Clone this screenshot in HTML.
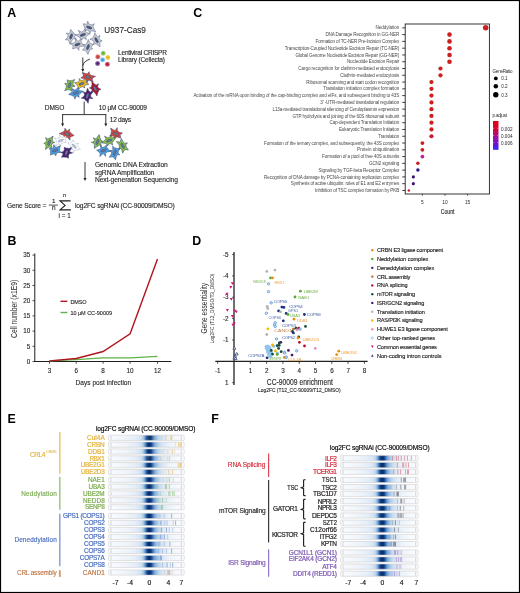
<!DOCTYPE html>
<html><head><meta charset="utf-8"><style>
html,body{margin:0;padding:0;background:#fff;}
body{width:520px;height:593px;overflow:hidden;}
svg{display:block;font-family:"Liberation Sans", sans-serif;will-change:transform;}
</style></head><body>
<svg width="520" height="593" viewBox="0 0 520 593">
<rect x="0" y="0" width="520" height="593" fill="#fff"/>
<text x="7.30" y="17.40" font-size="12.4" fill="#000" font-weight="bold">A</text>
<path d="M93.91,28.98 L95.65,31.78 L91.95,30.80 L90.78,30.83 L90.71,31.00 L90.00,33.40 L88.68,30.76 L87.98,30.38 L86.99,30.10 L83.93,31.09 L85.28,28.80 L84.81,27.86 L84.27,26.12 L83.12,23.76 L86.16,24.23 L87.33,24.17 L87.15,24.03 L87.62,21.20 L89.26,24.18 L89.99,24.53 L91.20,24.90 L94.35,23.81 L92.91,26.18 L93.38,27.12Z" fill="#c9c9cf" stroke="#5a6a90" stroke-width="0.55" stroke-linejoin="miter"/>
<ellipse cx="89.10" cy="27.50" rx="2.9" ry="1.2" fill="#4a5a80" stroke="#2c3a62" stroke-width="0.35" transform="rotate(20.1 89.10 27.50)"/>
<path d="M74.54,34.26 L76.48,34.84 L74.47,36.44 L74.13,37.19 L74.33,37.04 L76.61,39.14 L73.62,38.74 L73.05,39.35 L71.67,40.88 L69.93,44.17 L69.00,41.06 L68.29,40.02 L67.95,39.76 L65.32,39.83 L67.62,37.36 L67.89,36.50 L68.06,35.39 L66.35,33.04 L68.92,33.70 L69.60,33.11 L69.79,32.69 L70.74,29.42 L72.23,31.64 L73.27,32.26Z" fill="#c9c9cf" stroke="#5a6a90" stroke-width="0.55" stroke-linejoin="miter"/>
<ellipse cx="71.10" cy="36.50" rx="2.9" ry="1.2" fill="#4a5a80" stroke="#2c3a62" stroke-width="0.35" transform="rotate(-69.9 71.10 36.50)"/>
<path d="M87.38,32.83 L90.11,33.84 L87.16,35.50 L86.30,36.30 L85.65,37.04 L86.38,39.64 L83.96,37.92 L83.19,38.02 L83.03,38.21 L81.65,40.24 L80.94,38.38 L79.98,38.02 L78.02,36.49 L75.73,35.19 L78.72,33.91 L79.60,33.22 L79.55,33.06 L78.25,30.27 L81.25,32.03 L82.02,31.89 L83.05,31.50 L85.10,28.66 L85.29,31.51 L86.24,32.04Z" fill="#c9c9cf" stroke="#5a6a90" stroke-width="0.55" stroke-linejoin="miter"/>
<ellipse cx="82.80" cy="34.90" rx="2.9" ry="1.2" fill="#4a5a80" stroke="#2c3a62" stroke-width="0.35" transform="rotate(-20.1 82.80 34.90)"/>
<path d="M99.82,43.76 L99.93,46.94 L97.39,44.82 L96.29,44.24 L95.33,43.79 L93.47,44.68 L93.99,42.30 L93.71,41.56 L93.13,40.62 L89.88,39.15 L92.73,38.44 L93.06,37.42 L94.05,35.79 L94.77,32.69 L96.73,35.97 L97.56,36.72 L97.74,36.67 L99.94,35.35 L99.05,38.17 L99.32,38.91 L99.81,39.64 L102.21,40.85 L100.26,41.76 L99.99,42.78Z" fill="#c9c9cf" stroke="#5a6a90" stroke-width="0.55" stroke-linejoin="miter"/>
<ellipse cx="96.50" cy="40.20" rx="2.9" ry="1.2" fill="#4a5a80" stroke="#2c3a62" stroke-width="0.35" transform="rotate(60.2 96.50 40.20)"/>
<path d="M82.24,44.28 L84.44,46.15 L80.76,46.33 L79.90,46.76 L79.06,47.36 L78.81,50.36 L77.30,47.90 L76.46,47.84 L75.43,47.96 L72.67,49.01 L73.05,46.76 L72.86,45.57 L72.65,45.20 L70.05,43.48 L73.95,42.93 L74.82,42.42 L75.63,41.78 L75.54,38.64 L77.36,41.17 L78.17,41.19 L78.41,41.02 L80.84,38.88 L80.83,41.38 L81.63,42.19Z" fill="#c9c9cf" stroke="#5a6a90" stroke-width="0.55" stroke-linejoin="miter"/>
<ellipse cx="77.50" cy="44.50" rx="2.9" ry="1.2" fill="#4a5a80" stroke="#2c3a62" stroke-width="0.35" transform="rotate(-20.1 77.50 44.50)"/>
<path d="M91.24,44.06 L93.73,44.17 L91.46,46.42 L91.17,47.26 L91.28,47.42 L92.74,48.98 L90.63,49.14 L90.10,49.75 L89.16,51.05 L88.03,54.34 L86.64,51.93 L85.66,51.20 L84.80,50.24 L82.42,50.11 L84.53,47.86 L84.81,47.01 L84.88,46.21 L83.35,44.21 L85.68,44.52 L86.30,43.92 L87.02,43.01 L88.34,39.46 L89.60,42.32 L90.51,43.17Z" fill="#c9c9cf" stroke="#5a6a90" stroke-width="0.55" stroke-linejoin="miter"/>
<ellipse cx="88.00" cy="47.10" rx="2.9" ry="1.2" fill="#4a5a80" stroke="#2c3a62" stroke-width="0.35" transform="rotate(-69.9 88.00 47.10)"/>
<text x="104.30" y="32.60" font-size="9.4" fill="#231f20" textLength="41.60" lengthAdjust="spacingAndGlyphs" stroke="#231f20" stroke-width="0.12">U937-Cas9</text>
<defs><radialGradient id="ld0"><stop offset="0.25" stop-color="#c83a3a"/><stop offset="1" stop-color="#e89090"/></radialGradient></defs>
<circle cx="97.80" cy="56.80" r="2.50" fill="url(#ld0)"/>
<defs><radialGradient id="ld1"><stop offset="0.25" stop-color="#6aae3a"/><stop offset="1" stop-color="#b0dc90"/></radialGradient></defs>
<circle cx="103.20" cy="53.30" r="2.50" fill="url(#ld1)"/>
<defs><radialGradient id="ld2"><stop offset="0.25" stop-color="#eeb000"/><stop offset="1" stop-color="#f8dc80"/></radialGradient></defs>
<circle cx="107.80" cy="57.40" r="2.50" fill="url(#ld2)"/>
<defs><radialGradient id="ld3"><stop offset="0.25" stop-color="#3a96e0"/><stop offset="1" stop-color="#a8d4f6"/></radialGradient></defs>
<circle cx="102.60" cy="59.80" r="2.50" fill="url(#ld3)"/>
<defs><radialGradient id="ld4"><stop offset="0.25" stop-color="#4a1a6a"/><stop offset="1" stop-color="#a888c0"/></radialGradient></defs>
<circle cx="97.60" cy="63.50" r="2.50" fill="url(#ld4)"/>
<defs><radialGradient id="ld5"><stop offset="0.25" stop-color="#b8102e"/><stop offset="1" stop-color="#e08098"/></radialGradient></defs>
<circle cx="107.40" cy="64.30" r="2.50" fill="url(#ld5)"/>
<text x="118.10" y="54.75" font-size="6.5" fill="#231f20" textLength="48.80" lengthAdjust="spacing" stroke="#231f20" stroke-width="0.12">Lentiviral CRISPR</text>
<text x="118.10" y="61.90" font-size="6.5" fill="#231f20" textLength="46.90" lengthAdjust="spacing" stroke="#231f20" stroke-width="0.12">Library (Cellecta)</text>
<path d="M89.9,59.1 C86,60.5 83.5,62.5 82.9,65.5" fill="none" stroke="#231f20" stroke-width="0.9"/>
<line x1="82.80" y1="57.50" x2="82.80" y2="69.80" stroke="#231f20" stroke-width="0.9"/>
<path d="M81.30,69.00 L84.30,69.00 L82.80,72.00Z" fill="#231f20"/>
<path d="M92.25,79.39 L93.01,82.08 L89.84,80.47 L88.80,80.33 L88.24,80.42 L86.80,83.01 L86.45,79.91 L85.82,79.45 L84.32,78.54 L80.76,77.91 L83.05,76.25 L83.47,75.14 L83.29,75.00 L82.24,72.34 L85.55,73.58 L86.65,73.66 L87.71,73.61 L89.10,71.72 L89.47,74.14 L90.10,74.62 L91.62,75.59 L95.58,76.37 L92.76,77.98 L92.23,79.05Z" fill="#d8463a" stroke="#3a4a70" stroke-width="0.55" stroke-linejoin="miter"/>
<ellipse cx="87.90" cy="77.00" rx="2.9" ry="1.2" fill="#6a7a98" stroke="#2c3a62" stroke-width="0.35" transform="rotate(20.1 87.90 77.00)"/>
<path d="M71.79,80.70 L74.77,79.46 L73.05,83.05 L72.94,84.12 L73.02,84.85 L75.25,86.21 L72.52,86.63 L72.05,87.27 L71.61,88.24 L71.47,91.17 L69.71,89.82 L68.56,89.84 L67.48,89.74 L64.73,90.78 L66.16,87.42 L66.26,86.35 L66.25,85.16 L64.60,83.70 L66.84,83.42 L67.34,82.80 L67.38,82.47 L67.27,79.73 L69.06,80.81 L70.16,80.59Z" fill="#86bf4e" stroke="#3a4a70" stroke-width="0.55" stroke-linejoin="miter"/>
<ellipse cx="69.60" cy="85.20" rx="2.9" ry="1.2" fill="#6a7a98" stroke="#2c3a62" stroke-width="0.35" transform="rotate(-69.9 69.60 85.20)"/>
<path d="M86.46,82.79 L88.88,84.37 L85.31,85.17 L84.43,85.72 L84.37,85.95 L84.61,87.98 L82.68,86.81 L81.90,86.89 L80.79,87.23 L78.55,89.21 L78.40,86.93 L77.56,86.16 L76.76,84.44 L74.45,82.76 L78.05,82.17 L78.93,81.67 L79.32,81.25 L79.04,78.56 L81.02,80.53 L81.81,80.50 L82.80,80.25 L85.21,78.59 L85.25,80.79 L85.94,81.72Z" fill="#f3c21c" stroke="#3a4a70" stroke-width="0.55" stroke-linejoin="miter"/>
<ellipse cx="81.60" cy="83.75" rx="2.9" ry="1.2" fill="#6a7a98" stroke="#2c3a62" stroke-width="0.35" transform="rotate(-20.1 81.60 83.75)"/>
<path d="M97.64,92.95 L96.98,96.02 L94.97,92.87 L94.10,92.13 L93.22,91.50 L91.05,92.12 L92.16,89.97 L91.96,89.21 L91.78,89.15 L89.42,87.94 L91.34,87.03 L91.61,86.01 L91.96,84.79 L91.94,81.32 L94.51,84.05 L95.55,84.69 L96.30,85.03 L98.48,83.70 L97.63,86.53 L97.90,87.27 L98.41,88.03 L100.95,89.25 L98.86,90.15 L98.60,91.17Z" fill="#b3142c" stroke="#3a4a70" stroke-width="0.55" stroke-linejoin="miter"/>
<ellipse cx="95.10" cy="88.60" rx="2.9" ry="1.2" fill="#6a7a98" stroke="#2c3a62" stroke-width="0.35" transform="rotate(60.2 95.10 88.60)"/>
<path d="M80.34,90.63 L83.54,91.40 L80.38,93.29 L79.55,94.15 L78.71,95.07 L79.16,97.34 L77.02,95.94 L76.25,96.03 L76.25,96.18 L74.82,99.08 L74.20,96.39 L73.24,96.07 L71.51,95.24 L68.67,94.43 L71.38,92.58 L72.21,91.70 L72.81,90.93 L72.11,88.61 L74.51,89.97 L75.28,89.85 L76.16,89.49 L77.92,87.47 L78.40,89.51 L79.35,90.05Z" fill="#4d9fe2" stroke="#3a4a70" stroke-width="0.55" stroke-linejoin="miter"/>
<ellipse cx="75.90" cy="92.90" rx="2.9" ry="1.2" fill="#6a7a98" stroke="#2c3a62" stroke-width="0.35" transform="rotate(-20.1 75.90 92.90)"/>
<path d="M90.34,92.11 L93.12,91.72 L90.90,94.57 L90.67,95.49 L90.60,96.45 L92.99,98.71 L89.87,98.14 L89.28,98.75 L88.84,99.48 L88.10,103.31 L86.48,100.66 L85.40,100.16 L84.04,98.43 L81.17,98.32 L83.98,96.16 L84.29,95.36 L84.53,94.25 L83.41,91.90 L85.56,92.56 L86.33,91.99 L86.33,91.78 L87.54,88.23 L88.88,90.99 L89.83,91.78Z" fill="#4e1d70" stroke="#3a4a70" stroke-width="0.55" stroke-linejoin="miter"/>
<ellipse cx="87.40" cy="95.80" rx="2.9" ry="1.2" fill="#6a7a98" stroke="#2c3a62" stroke-width="0.35" transform="rotate(-69.9 87.40 95.80)"/>
<text x="44.70" y="109.60" font-size="6.6" fill="#231f20" textLength="19.60" lengthAdjust="spacing" stroke="#231f20" stroke-width="0.12">DMSO</text>
<text x="98.80" y="109.60" font-size="6.6" fill="#231f20" textLength="48.00" lengthAdjust="spacing" stroke="#231f20" stroke-width="0.12">10 µM CC-90009</text>
<line x1="84.20" y1="101.50" x2="84.20" y2="114.60" stroke="#231f20" stroke-width="0.9"/>
<line x1="62.20" y1="114.60" x2="106.20" y2="114.60" stroke="#231f20" stroke-width="0.9"/>
<line x1="62.60" y1="114.20" x2="62.60" y2="124.40" stroke="#231f20" stroke-width="0.9"/>
<path d="M61.10,123.60 L64.10,123.60 L62.60,126.60Z" fill="#231f20"/>
<line x1="105.80" y1="114.20" x2="105.80" y2="124.40" stroke="#231f20" stroke-width="0.9"/>
<path d="M104.30,123.60 L107.30,123.60 L105.80,126.60Z" fill="#231f20"/>
<text x="109.80" y="122.20" font-size="6.6" fill="#231f20" textLength="21.20" lengthAdjust="spacing" stroke="#231f20" stroke-width="0.12">12 days</text>
<path d="M70.04,137.40 L70.00,140.18 L67.72,137.54 L66.91,137.24 L65.90,137.07 L63.66,138.36 L64.21,136.14 L63.62,135.42 L63.02,134.97 L59.31,133.51 L62.47,132.35 L63.38,131.50 L64.65,130.72 L64.93,128.17 L66.91,130.69 L67.69,131.01 L67.71,130.86 L69.56,129.02 L69.41,131.56 L70.02,132.12 L71.70,133.74 L74.19,135.52 L71.62,136.40 L70.51,137.02Z" fill="#d8463a" stroke="#3a4a70" stroke-width="0.55" stroke-linejoin="miter"/>
<ellipse cx="67.20" cy="134.10" rx="2.9" ry="1.2" fill="#6a7a98" stroke="#2c3a62" stroke-width="0.35" transform="rotate(20.1 67.20 134.10)"/>
<path d="M50.43,137.86 L53.13,136.12 L52.36,139.72 L52.42,140.89 L52.60,141.51 L54.62,142.43 L52.27,143.45 L51.87,144.12 L51.44,145.25 L52.09,148.70 L49.88,146.94 L48.82,147.25 L48.08,147.56 L45.53,149.45 L45.95,145.97 L45.81,144.77 L45.60,144.23 L43.79,143.41 L45.86,142.22 L46.24,141.52 L46.50,140.59 L45.55,137.61 L47.79,138.88 L48.73,138.42Z" fill="#86bf4e" stroke="#3a4a70" stroke-width="0.55" stroke-linejoin="miter"/>
<ellipse cx="49.10" cy="142.70" rx="2.9" ry="1.2" fill="#6a7a98" stroke="#2c3a62" stroke-width="0.35" transform="rotate(-69.9 49.10 142.70)"/>
<path d="M65.45,140.65 L66.63,142.35 L63.88,142.58 L63.03,142.96 L61.49,143.78 L60.43,146.10 L59.53,144.10 L58.60,143.87 L58.78,144.06 L55.50,145.67 L56.39,142.91 L56.16,141.73 L56.31,140.23 L54.27,138.12 L57.94,138.46 L58.78,138.12 L59.29,137.71 L59.55,134.45 L61.07,137.19 L61.92,137.26 L63.13,137.18 L66.50,135.86 L65.40,138.58 L65.44,139.80Z" fill="#ffffff" stroke="#7a8ab0" stroke-width="0.55" stroke-linejoin="miter" stroke-dasharray="0.8,0.6"/>
<ellipse cx="60.80" cy="140.60" rx="2.9" ry="1.2" fill="#c0c8d8" stroke="#2c3a62" stroke-width="0.35" transform="rotate(-20.1 60.80 140.60)" stroke-dasharray="0.8,0.6"/>
<path d="M74.88,150.29 L73.43,152.82 L72.89,149.33 L72.34,148.70 L72.40,148.94 L69.79,149.99 L71.15,147.60 L70.83,146.84 L70.11,145.47 L67.60,142.96 L70.47,142.82 L71.58,142.30 L72.15,141.97 L73.12,139.94 L74.60,142.52 L75.33,143.13 L76.31,143.73 L78.71,143.22 L77.50,145.16 L77.78,145.98 L78.30,146.98 L80.24,149.25 L77.89,149.62 L76.77,150.12Z" fill="#ffffff" stroke="#7a8ab0" stroke-width="0.55" stroke-linejoin="miter" stroke-dasharray="0.8,0.6"/>
<ellipse cx="74.20" cy="146.20" rx="2.9" ry="1.2" fill="#c0c8d8" stroke="#2c3a62" stroke-width="0.35" transform="rotate(45.3 74.20 146.20)" stroke-dasharray="0.8,0.6"/>
<path d="M59.65,150.77 L60.93,152.56 L58.03,152.59 L57.19,152.94 L56.39,153.48 L55.79,155.84 L54.58,153.94 L53.71,153.84 L53.10,153.97 L50.31,155.12 L50.71,152.83 L50.46,151.65 L50.49,150.36 L49.19,148.61 L52.08,148.48 L52.93,148.11 L53.50,147.65 L53.73,144.68 L55.26,147.11 L56.10,147.16 L57.25,147.05 L60.40,145.71 L59.59,148.31 L59.75,149.51Z" fill="#4d9fe2" stroke="#3a4a70" stroke-width="0.55" stroke-linejoin="miter"/>
<ellipse cx="55.10" cy="150.50" rx="2.9" ry="1.2" fill="#6a7a98" stroke="#2c3a62" stroke-width="0.35" transform="rotate(-20.1 55.10 150.50)"/>
<path d="M68.86,148.42 L71.78,147.50 L69.88,150.85 L69.73,151.87 L69.88,151.81 L72.65,152.88 L69.49,153.68 L69.07,154.34 L68.50,155.60 L68.44,158.34 L66.70,157.23 L65.57,157.34 L63.90,156.95 L61.50,157.35 L62.91,154.51 L63.08,153.50 L62.93,153.47 L60.71,152.35 L63.35,151.62 L63.78,150.96 L64.26,149.85 L64.24,147.03 L66.02,148.21 L67.15,148.06Z" fill="#4e1d70" stroke="#3a4a70" stroke-width="0.55" stroke-linejoin="miter"/>
<ellipse cx="66.40" cy="152.70" rx="2.9" ry="1.2" fill="#6a7a98" stroke="#2c3a62" stroke-width="0.35" transform="rotate(-69.9 66.40 152.70)"/>
<path d="M120.27,135.78 L120.80,138.06 L117.96,137.13 L116.88,137.04 L115.60,137.04 L114.06,138.80 L113.86,136.44 L113.24,135.92 L112.81,135.81 L109.67,135.91 L111.18,134.02 L111.06,132.89 L111.52,131.13 L110.58,128.09 L113.97,130.21 L114.97,130.38 L115.58,130.32 L117.22,127.58 L117.34,130.87 L117.96,131.36 L119.38,132.26 L122.45,133.07 L120.56,134.62 L120.06,135.70Z" fill="#d8463a" stroke="#3a4a70" stroke-width="0.55" stroke-linejoin="miter"/>
<ellipse cx="115.70" cy="133.70" rx="2.9" ry="1.2" fill="#6a7a98" stroke="#2c3a62" stroke-width="0.35" transform="rotate(20.1 115.70 133.70)"/>
<path d="M97.25,137.35 L99.18,134.58 L99.90,137.56 L100.48,138.70 L101.00,140.51 L102.96,141.36 L100.71,142.49 L100.33,143.18 L100.40,143.37 L101.56,145.68 L99.41,145.06 L98.65,145.63 L96.66,146.76 L94.35,148.41 L94.42,145.33 L94.23,144.12 L94.00,143.21 L91.43,142.38 L94.30,141.25 L94.70,140.56 L94.61,140.41 L93.20,137.83 L95.61,138.71 L96.38,138.14Z" fill="#86bf4e" stroke="#3a4a70" stroke-width="0.55" stroke-linejoin="miter"/>
<ellipse cx="97.50" cy="141.90" rx="2.9" ry="1.2" fill="#6a7a98" stroke="#2c3a62" stroke-width="0.35" transform="rotate(-69.9 97.50 141.90)"/>
<path d="M112.91,137.67 L116.10,137.78 L114.02,140.08 L113.37,141.17 L112.13,142.69 L112.81,145.15 L110.44,143.60 L109.66,143.70 L109.09,143.98 L107.45,146.03 L106.89,144.02 L105.94,143.55 L105.07,143.22 L101.43,142.88 L104.53,140.62 L105.30,139.65 L105.86,138.83 L104.55,136.12 L107.57,137.77 L108.34,137.62 L109.51,137.19 L111.41,134.90 L111.76,137.23 L112.70,137.78Z" fill="#86bf4e" stroke="#3a4a70" stroke-width="0.55" stroke-linejoin="miter"/>
<ellipse cx="109.20" cy="140.60" rx="2.9" ry="1.2" fill="#6a7a98" stroke="#2c3a62" stroke-width="0.35" transform="rotate(-20.1 109.20 140.60)"/>
<path d="M124.03,150.46 L122.73,153.14 L121.60,149.53 L120.97,148.75 L120.60,148.57 L117.96,149.45 L119.58,147.03 L119.40,146.26 L118.86,144.58 L116.35,141.56 L119.44,142.01 L120.51,141.48 L120.40,141.29 L121.30,138.44 L123.04,141.69 L123.82,142.45 L124.85,143.35 L127.47,142.83 L125.78,144.93 L125.93,145.72 L126.35,147.14 L128.41,149.97 L125.68,149.70 L124.57,150.16Z" fill="#86bf4e" stroke="#3a4a70" stroke-width="0.55" stroke-linejoin="miter"/>
<ellipse cx="122.60" cy="145.80" rx="2.9" ry="1.2" fill="#6a7a98" stroke="#2c3a62" stroke-width="0.35" transform="rotate(60.2 122.60 145.80)"/>
<path d="M108.46,149.63 L111.04,151.27 L107.25,151.97 L106.38,152.51 L105.44,153.24 L105.48,156.36 L103.70,153.84 L102.88,153.82 L102.64,153.99 L99.87,156.59 L100.22,153.60 L99.43,152.77 L98.74,151.65 L96.65,150.18 L99.77,149.20 L100.66,148.61 L100.91,148.25 L100.37,145.71 L102.60,147.42 L103.38,147.34 L104.29,147.04 L106.43,145.00 L106.65,147.27 L107.52,147.98Z" fill="#4d9fe2" stroke="#3a4a70" stroke-width="0.55" stroke-linejoin="miter"/>
<ellipse cx="103.60" cy="150.50" rx="2.9" ry="1.2" fill="#6a7a98" stroke="#2c3a62" stroke-width="0.35" transform="rotate(-20.1 103.60 150.50)"/>
<path d="M117.52,148.70 L120.34,148.10 L118.30,151.17 L118.10,152.13 L118.07,153.07 L119.83,154.79 L117.41,154.78 L116.86,155.40 L116.25,156.38 L115.48,159.83 L113.89,157.56 L112.80,157.06 L112.08,156.71 L109.26,157.32 L111.30,154.24 L111.50,153.27 L111.55,152.25 L109.83,150.50 L112.23,150.55 L112.78,149.94 L112.79,149.67 L112.74,146.12 L114.69,148.08 L115.84,148.06Z" fill="#4d9fe2" stroke="#3a4a70" stroke-width="0.55" stroke-linejoin="miter"/>
<ellipse cx="114.80" cy="152.70" rx="2.9" ry="1.2" fill="#6a7a98" stroke="#2c3a62" stroke-width="0.35" transform="rotate(-69.9 114.80 152.70)"/>
<line x1="85.00" y1="162.00" x2="85.00" y2="178.80" stroke="#231f20" stroke-width="0.9"/>
<path d="M83.50,178.00 L86.50,178.00 L85.00,181.00Z" fill="#231f20"/>
<text x="94.90" y="167.40" font-size="6.7" fill="#231f20" textLength="72.90" lengthAdjust="spacing" stroke="#231f20" stroke-width="0.12">Genomic DNA Extraction</text>
<text x="94.90" y="175.20" font-size="6.7" fill="#231f20" textLength="59.40" lengthAdjust="spacing" stroke="#231f20" stroke-width="0.12">sgRNA Amplification</text>
<text x="94.90" y="182.10" font-size="6.7" fill="#231f20" textLength="83.10" lengthAdjust="spacing" stroke="#231f20" stroke-width="0.12">Next-generation Sequencing</text>
<text x="6.90" y="207.80" font-size="6.6" fill="#231f20" textLength="39.50" lengthAdjust="spacing" stroke="#231f20" stroke-width="0.12">Gene Score =</text>
<text x="53.70" y="203.30" font-size="6.2" fill="#231f20" text-anchor="middle" stroke="#231f20" stroke-width="0.12">1</text>
<line x1="48.80" y1="205.10" x2="57.80" y2="205.10" stroke="#231f20" stroke-width="0.8"/>
<text x="53.70" y="210.40" font-size="6.4" fill="#231f20" text-anchor="middle" stroke="#231f20" stroke-width="0.12">n</text>
<path d="M70.6,200.9 L60.0,200.9 L65.1,205.4 L60.0,209.9 L70.9,209.9" fill="none" stroke="#231f20" stroke-width="1.1" stroke-linejoin="miter"/>
<text x="64.70" y="196.70" font-size="5.8" fill="#231f20" text-anchor="middle" stroke="#231f20" stroke-width="0.12">n</text>
<text x="64.60" y="217.90" font-size="7.2" fill="#231f20" text-anchor="middle" textLength="12.10" lengthAdjust="spacingAndGlyphs" stroke="#231f20" stroke-width="0.12">i = 1</text>
<text x="75.00" y="208.00" font-size="6.7" fill="#231f20" textLength="99.80" lengthAdjust="spacing" stroke="#231f20" stroke-width="0.12">log2FC sgRNAi (CC-90009/DMSO)</text>
<text x="7.50" y="245.20" font-size="12.4" fill="#000" font-weight="bold">B</text>
<line x1="34.80" y1="253.50" x2="34.80" y2="362.00" stroke="#231f20" stroke-width="1.0"/>
<line x1="34.30" y1="361.50" x2="171.30" y2="361.50" stroke="#231f20" stroke-width="1.0"/>
<line x1="32.50" y1="361.50" x2="34.80" y2="361.50" stroke="#231f20" stroke-width="0.8"/>
<text x="30.20" y="363.70" font-size="6.3" fill="#231f20" text-anchor="end" stroke="#231f20" stroke-width="0.12">0</text>
<line x1="32.50" y1="346.30" x2="34.80" y2="346.30" stroke="#231f20" stroke-width="0.8"/>
<text x="30.20" y="348.50" font-size="6.3" fill="#231f20" text-anchor="end" stroke="#231f20" stroke-width="0.12">5</text>
<line x1="32.50" y1="331.10" x2="34.80" y2="331.10" stroke="#231f20" stroke-width="0.8"/>
<text x="30.20" y="333.30" font-size="6.3" fill="#231f20" text-anchor="end" stroke="#231f20" stroke-width="0.12">10</text>
<line x1="32.50" y1="315.90" x2="34.80" y2="315.90" stroke="#231f20" stroke-width="0.8"/>
<text x="30.20" y="318.10" font-size="6.3" fill="#231f20" text-anchor="end" stroke="#231f20" stroke-width="0.12">15</text>
<line x1="32.50" y1="300.70" x2="34.80" y2="300.70" stroke="#231f20" stroke-width="0.8"/>
<text x="30.20" y="302.90" font-size="6.3" fill="#231f20" text-anchor="end" stroke="#231f20" stroke-width="0.12">20</text>
<line x1="32.50" y1="285.50" x2="34.80" y2="285.50" stroke="#231f20" stroke-width="0.8"/>
<text x="30.20" y="287.70" font-size="6.3" fill="#231f20" text-anchor="end" stroke="#231f20" stroke-width="0.12">25</text>
<line x1="32.50" y1="270.30" x2="34.80" y2="270.30" stroke="#231f20" stroke-width="0.8"/>
<text x="30.20" y="272.50" font-size="6.3" fill="#231f20" text-anchor="end" stroke="#231f20" stroke-width="0.12">30</text>
<line x1="32.50" y1="255.10" x2="34.80" y2="255.10" stroke="#231f20" stroke-width="0.8"/>
<text x="30.20" y="257.30" font-size="6.3" fill="#231f20" text-anchor="end" stroke="#231f20" stroke-width="0.12">35</text>
<line x1="49.50" y1="361.50" x2="49.50" y2="363.70" stroke="#231f20" stroke-width="0.8"/>
<text x="49.50" y="373.00" font-size="6.3" fill="#231f20" text-anchor="middle" stroke="#231f20" stroke-width="0.12">3</text>
<line x1="76.20" y1="361.50" x2="76.20" y2="363.70" stroke="#231f20" stroke-width="0.8"/>
<text x="76.20" y="373.00" font-size="6.3" fill="#231f20" text-anchor="middle" stroke="#231f20" stroke-width="0.12">6</text>
<line x1="103.10" y1="361.50" x2="103.10" y2="363.70" stroke="#231f20" stroke-width="0.8"/>
<text x="103.10" y="373.00" font-size="6.3" fill="#231f20" text-anchor="middle" stroke="#231f20" stroke-width="0.12">8</text>
<line x1="130.10" y1="361.50" x2="130.10" y2="363.70" stroke="#231f20" stroke-width="0.8"/>
<text x="130.10" y="373.00" font-size="6.3" fill="#231f20" text-anchor="middle" stroke="#231f20" stroke-width="0.12">10</text>
<line x1="157.50" y1="361.50" x2="157.50" y2="363.70" stroke="#231f20" stroke-width="0.8"/>
<text x="157.50" y="373.00" font-size="6.3" fill="#231f20" text-anchor="middle" stroke="#231f20" stroke-width="0.12">12</text>
<text x="75.60" y="385.15" font-size="7.4" fill="#231f20" textLength="55.60" lengthAdjust="spacingAndGlyphs" stroke="#231f20" stroke-width="0.12">Days post infection</text>
<text x="0" y="0" font-size="8.4" fill="#231f20" textLength="58.3" lengthAdjust="spacingAndGlyphs" transform="translate(16.9,338.0) rotate(-90)">Cell number (x1E9)</text>
<polyline points="49.5,360.9 76.2,359.7 103.1,357.9 130.1,357.9 157.5,356.3" fill="none" stroke="#5db345" stroke-width="1.3"/>
<polyline points="49.5,360.9 76.2,358.5 103.1,351.5 130.1,333.8 157.5,259.1" fill="none" stroke="#b0161e" stroke-width="1.4"/>
<line x1="60.50" y1="301.30" x2="67.40" y2="301.30" stroke="#b0161e" stroke-width="1.4"/>
<line x1="60.50" y1="312.50" x2="67.40" y2="312.50" stroke="#5db345" stroke-width="1.4"/>
<text x="70.40" y="303.60" font-size="5.5" fill="#231f20" textLength="16.10" lengthAdjust="spacing" stroke="#231f20" stroke-width="0.12">DMSO</text>
<text x="70.40" y="314.80" font-size="5.5" fill="#231f20" textLength="41.60" lengthAdjust="spacing" stroke="#231f20" stroke-width="0.12">10 µM CC-90009</text>
<text x="193.30" y="17.10" font-size="12.4" fill="#000" font-weight="bold">C</text>
<rect x="405.2" y="24.0" width="84.19999999999999" height="170.0" fill="none" stroke="#231f20" stroke-width="0.9"/>
<line x1="402.20" y1="27.85" x2="405.20" y2="27.85" stroke="#231f20" stroke-width="0.85"/>
<text x="375.50" y="29.45" font-size="4.6" fill="#4a4a4a" textLength="23.80" lengthAdjust="spacing">Neddylation</text>
<circle cx="485.68" cy="27.85" r="2.75" fill="#cc1f1f"/>
<line x1="402.20" y1="34.62" x2="405.20" y2="34.62" stroke="#231f20" stroke-width="0.85"/>
<text x="325.40" y="36.23" font-size="4.6" fill="#4a4a4a" textLength="73.90" lengthAdjust="spacing">DNA Damage Recognition in GG-NER</text>
<circle cx="449.52" cy="34.62" r="2.30" fill="#cc1f1f"/>
<line x1="402.20" y1="41.40" x2="405.20" y2="41.40" stroke="#231f20" stroke-width="0.85"/>
<text x="315.50" y="43.00" font-size="4.6" fill="#4a4a4a" textLength="83.80" lengthAdjust="spacing">Formation of TC-NER Pre-Incision Complex</text>
<circle cx="449.52" cy="41.40" r="2.30" fill="#cc1f1f"/>
<line x1="402.20" y1="48.18" x2="405.20" y2="48.18" stroke="#231f20" stroke-width="0.85"/>
<text x="284.80" y="49.78" font-size="4.6" fill="#4a4a4a" textLength="114.50" lengthAdjust="spacing">Transcription-Coupled Nucleotide Excision Repair (TC-NER)</text>
<circle cx="449.52" cy="48.18" r="2.30" fill="#cc1f1f"/>
<line x1="402.20" y1="54.95" x2="405.20" y2="54.95" stroke="#231f20" stroke-width="0.85"/>
<text x="295.50" y="56.55" font-size="4.6" fill="#4a4a4a" textLength="103.80" lengthAdjust="spacing">Global Genome Nucleotide Excision Repair (GG-NER)</text>
<circle cx="449.52" cy="54.95" r="2.30" fill="#cc1f1f"/>
<line x1="402.20" y1="61.73" x2="405.20" y2="61.73" stroke="#231f20" stroke-width="0.85"/>
<text x="346.90" y="63.33" font-size="4.6" fill="#4a4a4a" textLength="52.40" lengthAdjust="spacing">Nucleotide Excision Repair</text>
<circle cx="449.52" cy="61.73" r="2.30" fill="#cc1f1f"/>
<line x1="402.20" y1="68.50" x2="405.20" y2="68.50" stroke="#231f20" stroke-width="0.85"/>
<text x="298.30" y="70.10" font-size="4.6" fill="#4a4a4a" textLength="101.00" lengthAdjust="spacing">Cargo recognition for clathrin-mediated endocytosis</text>
<circle cx="440.48" cy="68.50" r="2.10" fill="#cc1f1f"/>
<line x1="402.20" y1="75.28" x2="405.20" y2="75.28" stroke="#231f20" stroke-width="0.85"/>
<text x="340.20" y="76.88" font-size="4.6" fill="#4a4a4a" textLength="59.10" lengthAdjust="spacing">Clathrin-mediated endocytosis</text>
<circle cx="440.48" cy="75.28" r="2.10" fill="#cc1f1f"/>
<line x1="402.20" y1="82.05" x2="405.20" y2="82.05" stroke="#231f20" stroke-width="0.85"/>
<text x="306.30" y="83.65" font-size="4.6" fill="#4a4a4a" textLength="93.00" lengthAdjust="spacing">Ribosomal scanning and start codon recognition</text>
<circle cx="431.44" cy="82.05" r="2.10" fill="#cc1f1f"/>
<line x1="402.20" y1="88.83" x2="405.20" y2="88.83" stroke="#231f20" stroke-width="0.85"/>
<text x="323.20" y="90.42" font-size="4.6" fill="#4a4a4a" textLength="76.10" lengthAdjust="spacing">Translation initiation complex formation</text>
<circle cx="431.44" cy="88.83" r="2.10" fill="#cc1f1f"/>
<line x1="402.20" y1="95.60" x2="405.20" y2="95.60" stroke="#231f20" stroke-width="0.85"/>
<text x="193.40" y="97.20" font-size="4.6" fill="#4a4a4a" textLength="205.90" lengthAdjust="spacing">Activation of the mRNA upon binding of the cap-binding complex and eIFs, and subsequent binding to 43S</text>
<circle cx="431.44" cy="95.60" r="2.10" fill="#cc1f1f"/>
<line x1="402.20" y1="102.38" x2="405.20" y2="102.38" stroke="#231f20" stroke-width="0.85"/>
<text x="320.30" y="103.97" font-size="4.6" fill="#4a4a4a" textLength="79.00" lengthAdjust="spacing">3' -UTR-mediated translational regulation</text>
<circle cx="431.44" cy="102.38" r="2.10" fill="#cc1f1f"/>
<line x1="402.20" y1="109.15" x2="405.20" y2="109.15" stroke="#231f20" stroke-width="0.85"/>
<text x="272.50" y="110.75" font-size="4.6" fill="#4a4a4a" textLength="126.80" lengthAdjust="spacing">L13a-mediated translational silencing of Ceruloplasmin expression</text>
<circle cx="431.44" cy="109.15" r="2.10" fill="#cc1f1f"/>
<line x1="402.20" y1="115.93" x2="405.20" y2="115.93" stroke="#231f20" stroke-width="0.85"/>
<text x="292.40" y="117.53" font-size="4.6" fill="#4a4a4a" textLength="106.90" lengthAdjust="spacing">GTP hydrolysis and joining of the 60S ribosomal subunit</text>
<circle cx="431.44" cy="115.93" r="2.10" fill="#cc1f1f"/>
<line x1="402.20" y1="122.70" x2="405.20" y2="122.70" stroke="#231f20" stroke-width="0.85"/>
<text x="329.60" y="124.30" font-size="4.6" fill="#4a4a4a" textLength="69.70" lengthAdjust="spacing">Cap-dependent Translation Initiation</text>
<circle cx="431.44" cy="122.70" r="2.10" fill="#cc1f1f"/>
<line x1="402.20" y1="129.47" x2="405.20" y2="129.47" stroke="#231f20" stroke-width="0.85"/>
<text x="338.90" y="131.07" font-size="4.6" fill="#4a4a4a" textLength="60.40" lengthAdjust="spacing">Eukaryotic Translation Initiation</text>
<circle cx="431.44" cy="129.47" r="2.10" fill="#cc1f1f"/>
<line x1="402.20" y1="136.25" x2="405.20" y2="136.25" stroke="#231f20" stroke-width="0.85"/>
<text x="378.20" y="137.85" font-size="4.6" fill="#4a4a4a" textLength="21.10" lengthAdjust="spacing">Translation</text>
<circle cx="431.44" cy="136.25" r="2.10" fill="#c81a3a"/>
<line x1="402.20" y1="143.03" x2="405.20" y2="143.03" stroke="#231f20" stroke-width="0.85"/>
<text x="264.00" y="144.62" font-size="4.6" fill="#4a4a4a" textLength="135.30" lengthAdjust="spacing">Formation of the ternary complex, and subsequently, the 43S complex</text>
<circle cx="422.40" cy="143.03" r="1.90" fill="#cc1f1f"/>
<line x1="402.20" y1="149.80" x2="405.20" y2="149.80" stroke="#231f20" stroke-width="0.85"/>
<text x="357.10" y="151.40" font-size="4.6" fill="#4a4a4a" textLength="42.20" lengthAdjust="spacing">Protein ubiquitination</text>
<circle cx="422.40" cy="149.80" r="1.90" fill="#cc1f2a"/>
<line x1="402.20" y1="156.57" x2="405.20" y2="156.57" stroke="#231f20" stroke-width="0.85"/>
<text x="322.00" y="158.17" font-size="4.6" fill="#4a4a4a" textLength="77.30" lengthAdjust="spacing">Formation of a pool of free 40S subunits</text>
<circle cx="422.40" cy="156.57" r="1.90" fill="#c0209a"/>
<line x1="402.20" y1="163.35" x2="405.20" y2="163.35" stroke="#231f20" stroke-width="0.85"/>
<text x="369.00" y="164.95" font-size="4.6" fill="#4a4a4a" textLength="30.30" lengthAdjust="spacing">GCN2 signaling</text>
<circle cx="417.88" cy="163.35" r="1.75" fill="#cc1f1f"/>
<line x1="402.20" y1="170.12" x2="405.20" y2="170.12" stroke="#231f20" stroke-width="0.85"/>
<text x="318.60" y="171.72" font-size="4.6" fill="#4a4a4a" textLength="80.70" lengthAdjust="spacing">Signaling by TGF-beta Receptor Complex</text>
<circle cx="417.88" cy="170.12" r="1.75" fill="#2a1a8a"/>
<line x1="402.20" y1="176.90" x2="405.20" y2="176.90" stroke="#231f20" stroke-width="0.85"/>
<text x="264.00" y="178.50" font-size="4.6" fill="#4a4a4a" textLength="135.30" lengthAdjust="spacing">Recognition of DNA damage by PCNA-containing replication complex</text>
<circle cx="413.36" cy="176.90" r="1.60" fill="#3c1478"/>
<line x1="402.20" y1="183.68" x2="405.20" y2="183.68" stroke="#231f20" stroke-width="0.85"/>
<text x="290.70" y="185.28" font-size="4.6" fill="#4a4a4a" textLength="108.60" lengthAdjust="spacing">Synthesis of active ubiquitin: roles of E1 and E2 enzymes</text>
<circle cx="413.36" cy="183.68" r="1.60" fill="#3c1478"/>
<line x1="402.20" y1="190.45" x2="405.20" y2="190.45" stroke="#231f20" stroke-width="0.85"/>
<text x="314.80" y="192.05" font-size="4.6" fill="#4a4a4a" textLength="84.50" lengthAdjust="spacing">Inhibition of TSC complex formation by PKB</text>
<circle cx="408.84" cy="190.45" r="1.25" fill="#d01f30"/>
<line x1="422.40" y1="194.00" x2="422.40" y2="195.80" stroke="#231f20" stroke-width="0.7"/>
<text x="422.40" y="204.00" font-size="4.8" fill="#231f20" text-anchor="middle">5</text>
<line x1="445.00" y1="194.00" x2="445.00" y2="195.80" stroke="#231f20" stroke-width="0.7"/>
<text x="445.00" y="204.00" font-size="4.8" fill="#231f20" text-anchor="middle">10</text>
<line x1="467.60" y1="194.00" x2="467.60" y2="195.80" stroke="#231f20" stroke-width="0.7"/>
<text x="467.60" y="204.00" font-size="4.8" fill="#231f20" text-anchor="middle">15</text>
<text x="447.60" y="213.60" font-size="6.6" fill="#231f20" text-anchor="middle" textLength="13.80" lengthAdjust="spacingAndGlyphs" stroke="#231f20" stroke-width="0.12">Count</text>
<text x="492.50" y="72.60" font-size="4.5" fill="#231f20" textLength="20.00" lengthAdjust="spacing">GeneRatio</text>
<circle cx="495.80" cy="78.40" r="1.90" fill="#000"/>
<text x="501.20" y="80.30" font-size="4.6" fill="#231f20">0.1</text>
<circle cx="495.80" cy="86.20" r="2.25" fill="#000"/>
<text x="501.20" y="88.10" font-size="4.6" fill="#231f20">0.2</text>
<circle cx="495.80" cy="94.80" r="2.70" fill="#000"/>
<text x="501.20" y="96.70" font-size="4.6" fill="#231f20">0.3</text>
<text x="492.50" y="116.80" font-size="4.5" fill="#231f20" textLength="14.50" lengthAdjust="spacing">p.adjust</text>
<defs><linearGradient id="pg" x1="0" y1="0" x2="0" y2="1"><stop offset="0" stop-color="#e8000c"/><stop offset="0.3" stop-color="#d0063a"/><stop offset="0.6" stop-color="#9a10a8"/><stop offset="0.85" stop-color="#6014d8"/><stop offset="1" stop-color="#2a30ff"/></linearGradient></defs>
<rect x="493" y="121" width="5.5" height="28.8" fill="url(#pg)"/>
<line x1="493.00" y1="128.30" x2="494.20" y2="128.30" stroke="#fff" stroke-width="0.4"/>
<line x1="497.30" y1="128.30" x2="498.50" y2="128.30" stroke="#fff" stroke-width="0.4"/>
<text x="501.00" y="130.60" font-size="4.6" fill="#231f20">0.002</text>
<line x1="493.00" y1="135.50" x2="494.20" y2="135.50" stroke="#fff" stroke-width="0.4"/>
<line x1="497.30" y1="135.50" x2="498.50" y2="135.50" stroke="#fff" stroke-width="0.4"/>
<text x="501.00" y="137.80" font-size="4.6" fill="#231f20">0.004</text>
<line x1="493.00" y1="142.50" x2="494.20" y2="142.50" stroke="#fff" stroke-width="0.4"/>
<line x1="497.30" y1="142.50" x2="498.50" y2="142.50" stroke="#fff" stroke-width="0.4"/>
<text x="501.00" y="144.80" font-size="4.6" fill="#231f20">0.006</text>
<text x="192.30" y="245.30" font-size="12.4" fill="#000" font-weight="bold">D</text>
<line x1="234.00" y1="252.00" x2="234.00" y2="385.00" stroke="#222" stroke-width="1.3"/>
<line x1="215.30" y1="361.30" x2="367.60" y2="361.30" stroke="#222" stroke-width="1.3"/>
<line x1="232.20" y1="254.55" x2="234.00" y2="254.55" stroke="#231f20" stroke-width="0.8"/>
<text x="228.60" y="256.75" font-size="6.3" fill="#231f20" text-anchor="end" stroke="#231f20" stroke-width="0.12">-5</text>
<line x1="232.20" y1="275.90" x2="234.00" y2="275.90" stroke="#231f20" stroke-width="0.8"/>
<text x="228.60" y="278.10" font-size="6.3" fill="#231f20" text-anchor="end" stroke="#231f20" stroke-width="0.12">-4</text>
<line x1="232.20" y1="297.25" x2="234.00" y2="297.25" stroke="#231f20" stroke-width="0.8"/>
<text x="228.60" y="299.45" font-size="6.3" fill="#231f20" text-anchor="end" stroke="#231f20" stroke-width="0.12">-3</text>
<line x1="232.20" y1="318.60" x2="234.00" y2="318.60" stroke="#231f20" stroke-width="0.8"/>
<text x="228.60" y="320.80" font-size="6.3" fill="#231f20" text-anchor="end" stroke="#231f20" stroke-width="0.12">-2</text>
<line x1="232.20" y1="339.95" x2="234.00" y2="339.95" stroke="#231f20" stroke-width="0.8"/>
<text x="228.60" y="342.15" font-size="6.3" fill="#231f20" text-anchor="end" stroke="#231f20" stroke-width="0.12">-1</text>
<line x1="232.20" y1="382.65" x2="234.00" y2="382.65" stroke="#231f20" stroke-width="0.8"/>
<text x="228.60" y="384.85" font-size="6.3" fill="#231f20" text-anchor="end" stroke="#231f20" stroke-width="0.12">1</text>
<line x1="217.70" y1="361.30" x2="217.70" y2="363.80" stroke="#231f20" stroke-width="0.8"/>
<text x="217.80" y="373.30" font-size="6.3" fill="#231f20" text-anchor="middle" stroke="#231f20" stroke-width="0.12">-1</text>
<line x1="250.30" y1="361.30" x2="250.30" y2="363.80" stroke="#231f20" stroke-width="0.8"/>
<text x="250.40" y="373.30" font-size="6.3" fill="#231f20" text-anchor="middle" stroke="#231f20" stroke-width="0.12">1</text>
<line x1="266.60" y1="361.30" x2="266.60" y2="363.80" stroke="#231f20" stroke-width="0.8"/>
<text x="266.70" y="373.30" font-size="6.3" fill="#231f20" text-anchor="middle" stroke="#231f20" stroke-width="0.12">2</text>
<line x1="282.90" y1="361.30" x2="282.90" y2="363.80" stroke="#231f20" stroke-width="0.8"/>
<text x="283.00" y="373.30" font-size="6.3" fill="#231f20" text-anchor="middle" stroke="#231f20" stroke-width="0.12">3</text>
<line x1="299.20" y1="361.30" x2="299.20" y2="363.80" stroke="#231f20" stroke-width="0.8"/>
<text x="299.30" y="373.30" font-size="6.3" fill="#231f20" text-anchor="middle" stroke="#231f20" stroke-width="0.12">4</text>
<line x1="315.50" y1="361.30" x2="315.50" y2="363.80" stroke="#231f20" stroke-width="0.8"/>
<text x="315.60" y="373.30" font-size="6.3" fill="#231f20" text-anchor="middle" stroke="#231f20" stroke-width="0.12">5</text>
<line x1="331.80" y1="361.30" x2="331.80" y2="363.80" stroke="#231f20" stroke-width="0.8"/>
<text x="331.90" y="373.30" font-size="6.3" fill="#231f20" text-anchor="middle" stroke="#231f20" stroke-width="0.12">6</text>
<line x1="348.10" y1="361.30" x2="348.10" y2="363.80" stroke="#231f20" stroke-width="0.8"/>
<text x="348.20" y="373.30" font-size="6.3" fill="#231f20" text-anchor="middle" stroke="#231f20" stroke-width="0.12">7</text>
<line x1="364.40" y1="361.30" x2="364.40" y2="363.80" stroke="#231f20" stroke-width="0.8"/>
<text x="364.50" y="373.30" font-size="6.3" fill="#231f20" text-anchor="middle" stroke="#231f20" stroke-width="0.12">8</text>
<text x="266.80" y="385.00" font-size="8.6" fill="#231f20" textLength="66.00" lengthAdjust="spacingAndGlyphs" stroke="#231f20" stroke-width="0.12">CC-90009 enrichment</text>
<text x="258.10" y="392.00" font-size="5.6" fill="#231f20" textLength="82.60" lengthAdjust="spacingAndGlyphs" stroke="#231f20" stroke-width="0.12">Log2FC (T12_CC-90009/T12_DMSO)</text>
<text x="0" y="0" font-size="8.8" fill="#231f20" textLength="50.6" lengthAdjust="spacingAndGlyphs" transform="translate(206.8,333.5) rotate(-90)">Gene essentiality</text>
<text x="0" y="0" font-size="5.8" fill="#231f20" textLength="69.9" lengthAdjust="spacingAndGlyphs" transform="translate(214.3,343.5) rotate(-90)">Log2FC (T12_DMSO/T3_DMSO)</text>
<path d="M230.90,282.35 L233.90,282.35 L232.40,285.05Z" fill="#d4107c" stroke="none" stroke-width="0"/>
<path d="M229.30,286.05 L232.30,286.05 L230.80,288.75Z" fill="#d4107c" stroke="none" stroke-width="0"/>
<path d="M225.50,292.85 L228.50,292.85 L227.00,295.55Z" fill="#d4107c" stroke="none" stroke-width="0"/>
<path d="M229.80,298.05 L232.80,298.05 L231.30,300.75Z" fill="#d4107c" stroke="none" stroke-width="0"/>
<path d="M225.90,309.05 L228.90,309.05 L227.40,311.75Z" fill="#d4107c" stroke="none" stroke-width="0"/>
<path d="M233.60,309.65 L236.60,309.65 L235.10,312.35Z" fill="#d4107c" stroke="none" stroke-width="0"/>
<path d="M234.80,310.65 L237.80,310.65 L236.30,313.35Z" fill="#d4107c" stroke="none" stroke-width="0"/>
<path d="M230.90,314.95 L233.90,314.95 L232.40,317.65Z" fill="#d4107c" stroke="none" stroke-width="0"/>
<path d="M232.60,322.35 L235.60,322.35 L234.10,325.05Z" fill="#d4107c" stroke="none" stroke-width="0"/>
<path d="M231.40,323.65 L234.40,323.65 L232.90,326.35Z" fill="#d4107c" stroke="none" stroke-width="0"/>
<path d="M232.90,349.25 L235.90,349.25 L234.40,346.55Z" fill="#e8ecf4" stroke="#2a3a6a" stroke-width="0.7"/>
<path d="M235.20,355.05 L238.20,355.05 L236.70,352.35Z" fill="#e8ecf4" stroke="#2a3a6a" stroke-width="0.7"/>
<path d="M233.50,357.35 L236.50,357.35 L235.00,354.65Z" fill="#e8ecf4" stroke="#2a3a6a" stroke-width="0.7"/>
<path d="M232.90,359.05 L235.90,359.05 L234.40,356.35Z" fill="#e8ecf4" stroke="#2a3a6a" stroke-width="0.7"/>
<path d="M234.10,359.65 L237.10,359.65 L235.60,356.95Z" fill="#e8ecf4" stroke="#2a3a6a" stroke-width="0.7"/>
<circle cx="266.20" cy="346.60" r="1.60" fill="#93c4ee"/>
<circle cx="267.60" cy="346.20" r="1.60" fill="#93c4ee"/>
<circle cx="269.20" cy="346.80" r="1.60" fill="#93c4ee"/>
<circle cx="270.00" cy="348.00" r="1.60" fill="#93c4ee"/>
<circle cx="266.40" cy="348.40" r="1.60" fill="#93c4ee"/>
<circle cx="268.00" cy="348.20" r="1.60" fill="#93c4ee"/>
<circle cx="267.40" cy="350.00" r="1.60" fill="#93c4ee"/>
<circle cx="269.20" cy="349.80" r="1.60" fill="#93c4ee"/>
<circle cx="270.80" cy="350.40" r="1.60" fill="#93c4ee"/>
<circle cx="267.60" cy="351.80" r="1.60" fill="#93c4ee"/>
<circle cx="269.40" cy="352.00" r="1.60" fill="#93c4ee"/>
<circle cx="271.20" cy="352.20" r="1.60" fill="#93c4ee"/>
<circle cx="268.40" cy="353.60" r="1.60" fill="#93c4ee"/>
<circle cx="270.20" cy="354.00" r="1.60" fill="#93c4ee"/>
<circle cx="271.60" cy="354.60" r="1.60" fill="#93c4ee"/>
<circle cx="269.20" cy="355.60" r="1.60" fill="#93c4ee"/>
<circle cx="270.60" cy="356.40" r="1.60" fill="#93c4ee"/>
<circle cx="273.60" cy="346.20" r="1.60" fill="#93c4ee"/>
<circle cx="277.40" cy="353.20" r="1.60" fill="#93c4ee"/>
<circle cx="284.60" cy="352.20" r="1.60" fill="#93c4ee"/>
<circle cx="286.00" cy="357.40" r="1.60" fill="#93c4ee"/>
<circle cx="266.80" cy="271.40" r="1.40" fill="#b4b4b4"/>
<circle cx="274.90" cy="270.10" r="1.40" fill="#b4b4b4"/>
<circle cx="270.50" cy="277.90" r="1.40" fill="#5aaa30"/>
<circle cx="272.50" cy="277.90" r="1.40" fill="#eb8f10"/>
<circle cx="268.50" cy="283.80" r="1.20" fill="#dceaf8" stroke="#5a9de0" stroke-width="0.9"/>
<circle cx="268.50" cy="291.60" r="1.20" fill="#dceaf8" stroke="#5a9de0" stroke-width="0.9"/>
<circle cx="300.40" cy="291.20" r="1.40" fill="#5aaa30"/>
<circle cx="295.00" cy="297.00" r="1.40" fill="#5aaa30"/>
<circle cx="271.20" cy="302.80" r="1.20" fill="#dceaf8" stroke="#5a9de0" stroke-width="0.9"/>
<circle cx="281.90" cy="307.10" r="1.40" fill="#1c2e7e"/>
<circle cx="283.90" cy="307.40" r="1.40" fill="#1c2e7e"/>
<circle cx="267.80" cy="308.50" r="1.40" fill="#b4b4b4"/>
<circle cx="267.20" cy="306.50" r="1.40" fill="#b4b4b4"/>
<circle cx="278.60" cy="310.90" r="1.40" fill="#1c2e7e"/>
<circle cx="280.60" cy="311.80" r="1.40" fill="#b4b4b4"/>
<circle cx="266.40" cy="313.20" r="1.20" fill="#dceaf8" stroke="#5a9de0" stroke-width="0.9"/>
<circle cx="286.20" cy="313.40" r="1.40" fill="#1c2e7e"/>
<circle cx="288.00" cy="314.50" r="1.40" fill="#5aaa30"/>
<circle cx="304.40" cy="314.50" r="1.40" fill="#1c2e7e"/>
<circle cx="294.00" cy="319.20" r="1.40" fill="#eb8f10"/>
<circle cx="283.30" cy="320.80" r="1.40" fill="#1c2e7e"/>
<circle cx="275.20" cy="322.80" r="1.20" fill="#dceaf8" stroke="#5a9de0" stroke-width="0.9"/>
<circle cx="274.50" cy="324.80" r="1.20" fill="#dceaf8" stroke="#5a9de0" stroke-width="0.9"/>
<circle cx="275.20" cy="326.40" r="1.20" fill="#dceaf8" stroke="#5a9de0" stroke-width="0.9"/>
<circle cx="267.80" cy="328.80" r="1.40" fill="#f2b705"/>
<circle cx="293.40" cy="329.10" r="1.40" fill="#c06a26"/>
<circle cx="296.00" cy="328.20" r="1.40" fill="#184e38"/>
<circle cx="298.70" cy="328.20" r="1.40" fill="#b3102e"/>
<circle cx="297.00" cy="329.90" r="1.40" fill="#e690c4"/>
<circle cx="300.10" cy="329.20" r="1.20" fill="#dceaf8" stroke="#5a9de0" stroke-width="0.9"/>
<circle cx="305.50" cy="326.40" r="1.40" fill="#184e38"/>
<circle cx="292.40" cy="331.50" r="1.40" fill="#184e38"/>
<circle cx="293.40" cy="332.90" r="1.40" fill="#1c2e7e"/>
<circle cx="266.80" cy="334.50" r="1.40" fill="#b4b4b4"/>
<circle cx="276.50" cy="338.90" r="1.20" fill="#dceaf8" stroke="#5a9de0" stroke-width="0.9"/>
<circle cx="298.70" cy="336.90" r="1.40" fill="#184e38"/>
<circle cx="298.00" cy="338.00" r="1.40" fill="#eb8f10"/>
<circle cx="280.80" cy="342.30" r="1.40" fill="#4a1870"/>
<circle cx="279.20" cy="343.00" r="1.40" fill="#184e38"/>
<circle cx="299.40" cy="342.30" r="1.40" fill="#b3102e"/>
<circle cx="272.50" cy="345.00" r="1.40" fill="#f2b705"/>
<circle cx="277.20" cy="345.70" r="1.40" fill="#184e38"/>
<circle cx="279.20" cy="345.30" r="1.40" fill="#184e38"/>
<circle cx="278.60" cy="348.40" r="1.40" fill="#184e38"/>
<circle cx="304.50" cy="346.00" r="1.40" fill="#b3102e"/>
<circle cx="315.30" cy="348.40" r="1.40" fill="#e690c4"/>
<circle cx="271.20" cy="350.40" r="1.40" fill="#184e38"/>
<circle cx="275.50" cy="351.00" r="1.40" fill="#f2b705"/>
<circle cx="281.20" cy="351.70" r="1.40" fill="#184e38"/>
<circle cx="288.40" cy="350.40" r="1.40" fill="#4a1870"/>
<circle cx="284.60" cy="353.10" r="1.20" fill="#dceaf8" stroke="#5a9de0" stroke-width="0.9"/>
<circle cx="296.70" cy="350.80" r="1.20" fill="#dceaf8" stroke="#5a9de0" stroke-width="0.9"/>
<circle cx="272.50" cy="354.10" r="1.40" fill="#184e38"/>
<circle cx="277.20" cy="354.40" r="1.40" fill="#5aaa30"/>
<circle cx="292.00" cy="355.10" r="1.40" fill="#4a1870"/>
<circle cx="267.10" cy="357.80" r="1.40" fill="#1c2e7e"/>
<circle cx="284.30" cy="357.40" r="1.40" fill="#eb8f10"/>
<circle cx="286.20" cy="357.10" r="1.20" fill="#dceaf8" stroke="#5a9de0" stroke-width="0.9"/>
<circle cx="338.80" cy="351.20" r="1.40" fill="#eb8f10"/>
<circle cx="336.70" cy="354.60" r="1.40" fill="#eb8f10"/>
<text x="265.80" y="282.65" font-size="4.4" fill="#72b24c" text-anchor="end" textLength="12.50" lengthAdjust="spacingAndGlyphs">NEDD8</text>
<text x="274.50" y="283.75" font-size="4.4" fill="#eea040" textLength="9.80" lengthAdjust="spacingAndGlyphs">RBX1</text>
<text x="303.70" y="292.75" font-size="4.4" fill="#72b24c" textLength="14.30" lengthAdjust="spacing">UBE2M</text>
<text x="298.30" y="298.55" font-size="4.4" fill="#72b24c" textLength="11.20" lengthAdjust="spacing">NAE1</text>
<text x="273.80" y="303.25" font-size="4.4" fill="#4260a8" textLength="13.50" lengthAdjust="spacing">COPS5</text>
<text x="289.30" y="307.75" font-size="4.4" fill="#4260a8" textLength="13.50" lengthAdjust="spacing">COPS4</text>
<text x="288.00" y="312.05" font-size="4.4" fill="#4260a8" textLength="10.00" lengthAdjust="spacingAndGlyphs">GPS1</text>
<text x="289.70" y="316.55" font-size="4.4" fill="#72b24c" textLength="10.30" lengthAdjust="spacingAndGlyphs">UBA3</text>
<text x="306.80" y="315.75" font-size="4.4" fill="#4260a8" textLength="13.90" lengthAdjust="spacing">COPS8</text>
<text x="268.50" y="318.75" font-size="4.4" fill="#4260a8" textLength="12.70" lengthAdjust="spacingAndGlyphs">COPS6</text>
<text x="296.90" y="321.65" font-size="4.4" fill="#eea040" textLength="10.90" lengthAdjust="spacing">DDB1</text>
<text x="281.90" y="327.05" font-size="4.4" fill="#4260a8" textLength="14.10" lengthAdjust="spacing">COPS3</text>
<text x="274.20" y="332.45" font-size="4.4" fill="#c88450" textLength="17.80" lengthAdjust="spacingAndGlyphs">CAND1</text>
<text x="281.90" y="339.15" font-size="4.4" fill="#4260a8" textLength="13.50" lengthAdjust="spacing">COPS2</text>
<text x="302.40" y="341.15" font-size="4.4" fill="#eea040" textLength="16.50" lengthAdjust="spacing">UBE2D3</text>
<text x="264.40" y="356.95" font-size="4.4" fill="#4260a8" text-anchor="end" textLength="16.10" lengthAdjust="spacing">COPS7A</text>
<text x="268.90" y="360.25" font-size="4.4" fill="#72b24c" textLength="12.30" lengthAdjust="spacingAndGlyphs">SENP8</text>
<text x="288.00" y="360.65" font-size="4.4" fill="#eea040" textLength="13.40" lengthAdjust="spacing">CUL4A</text>
<text x="341.30" y="354.45" font-size="4.4" fill="#eea040" textLength="15.90" lengthAdjust="spacing">UBE2G1</text>
<text x="330.40" y="360.25" font-size="4.4" fill="#eea040" textLength="11.50" lengthAdjust="spacing">CRBN</text>
<circle cx="372.30" cy="250.30" r="1.20" fill="#eb8f10"/>
<text x="376.90" y="252.30" font-size="5.6" fill="#231f20" textLength="66.20" lengthAdjust="spacing" stroke="#231f20" stroke-width="0.15">CRBN E3 ligase component</text>
<circle cx="372.30" cy="259.07" r="1.20" fill="#5aaa30"/>
<text x="376.90" y="261.07" font-size="5.6" fill="#231f20" textLength="51.40" lengthAdjust="spacing" stroke="#231f20" stroke-width="0.15">Neddylation complex</text>
<circle cx="372.30" cy="267.84" r="1.20" fill="#1c2e7e"/>
<text x="376.90" y="269.84" font-size="5.6" fill="#231f20" textLength="57.30" lengthAdjust="spacing" stroke="#231f20" stroke-width="0.15">Deneddylation complex</text>
<circle cx="372.30" cy="276.61" r="1.20" fill="#c06a26"/>
<text x="376.90" y="278.61" font-size="5.6" fill="#231f20" textLength="33.30" lengthAdjust="spacing" stroke="#231f20" stroke-width="0.15">CRL assembly</text>
<circle cx="372.30" cy="285.38" r="1.20" fill="#b3102e"/>
<text x="376.90" y="287.38" font-size="5.6" fill="#231f20" textLength="30.80" lengthAdjust="spacing" stroke="#231f20" stroke-width="0.15">RNA splicing</text>
<circle cx="372.30" cy="294.15" r="1.20" fill="#184e38"/>
<text x="376.90" y="296.15" font-size="5.6" fill="#231f20" textLength="38.20" lengthAdjust="spacing" stroke="#231f20" stroke-width="0.15">mTOR signaling</text>
<circle cx="372.30" cy="302.92" r="1.20" fill="#4a1870"/>
<text x="376.90" y="304.92" font-size="5.6" fill="#231f20" textLength="47.40" lengthAdjust="spacing" stroke="#231f20" stroke-width="0.15">ISR/GCN2 signaling</text>
<circle cx="372.30" cy="311.69" r="1.20" fill="#b4b4b4"/>
<text x="376.90" y="313.69" font-size="5.6" fill="#231f20" textLength="48.00" lengthAdjust="spacing" stroke="#231f20" stroke-width="0.15">Translation initiation</text>
<circle cx="372.30" cy="320.46" r="1.20" fill="#f2b705"/>
<text x="376.90" y="322.46" font-size="5.6" fill="#231f20" textLength="45.60" lengthAdjust="spacing" stroke="#231f20" stroke-width="0.15">RAS/PI3K signaling</text>
<circle cx="372.30" cy="329.23" r="1.20" fill="#e690c4"/>
<text x="376.90" y="331.23" font-size="5.6" fill="#231f20" textLength="70.80" lengthAdjust="spacing" stroke="#231f20" stroke-width="0.15">HUWE1 E3 ligase component</text>
<circle cx="372.30" cy="338.00" r="1.10" fill="#fff" stroke="#6aaeea" stroke-width="0.6"/>
<text x="376.90" y="340.00" font-size="5.6" fill="#231f20" textLength="58.20" lengthAdjust="spacing" stroke="#231f20" stroke-width="0.15">Other top-ranked genes</text>
<path d="M370.90,345.51 L373.70,345.51 L372.30,348.03Z" fill="#d4107c" stroke="none" stroke-width="0"/>
<text x="376.90" y="348.77" font-size="5.6" fill="#231f20" textLength="60.00" lengthAdjust="spacing" stroke="#231f20" stroke-width="0.15">Common essential genes</text>
<path d="M371.00,356.71 L373.60,356.71 L372.30,354.37Z" fill="#2a3a6a" stroke="none" stroke-width="0"/>
<text x="376.90" y="357.54" font-size="5.6" fill="#231f20" textLength="64.60" lengthAdjust="spacing" stroke="#231f20" stroke-width="0.15">Non-coding intron controls</text>
<text x="7.50" y="422.50" font-size="12.4" fill="#000" font-weight="bold">E</text>
<text x="95.90" y="430.60" font-size="6.6" fill="#000" textLength="99.50" lengthAdjust="spacing" stroke="#000" stroke-width="0.15">log2FC sgRNAi (CC-90009/DMSO)</text>
<defs><linearGradient id="gE" gradientUnits="userSpaceOnUse" x1="108.3" y1="0" x2="184.5" y2="0"><stop offset="0.0000" stop-color="#fafcff"/><stop offset="0.2100" stop-color="#f0f5fb"/><stop offset="0.3543" stop-color="#e4edf8"/><stop offset="0.4199" stop-color="#d4e4f4"/><stop offset="0.4528" stop-color="#b6d1ea"/><stop offset="0.4724" stop-color="#86b0da"/><stop offset="0.4908" stop-color="#4a7fbf"/><stop offset="0.5079" stop-color="#1a4a92"/><stop offset="0.5249" stop-color="#0a3270"/><stop offset="0.5381" stop-color="#08306b"/><stop offset="0.5512" stop-color="#0a3272"/><stop offset="0.5669" stop-color="#194a93"/><stop offset="0.5840" stop-color="#3f78bb"/><stop offset="0.6037" stop-color="#72a2d3"/><stop offset="0.6299" stop-color="#9cc0e3"/><stop offset="0.6693" stop-color="#c4daf0"/><stop offset="0.7218" stop-color="#dce8f6"/><stop offset="0.8005" stop-color="#ecf3fa"/><stop offset="0.9055" stop-color="#f6f9fd"/><stop offset="1.0761" stop-color="#fcfdff"/></linearGradient></defs>
<rect x="108.60" y="435.20" width="75.60" height="5.20" rx="0.8" fill="url(#gE)" stroke="#cfcfcf" stroke-width="0.6"/>
<line x1="111.00" y1="435.70" x2="111.00" y2="439.90" stroke="#bdbdbd" stroke-width="0.6"/>
<line x1="181.30" y1="435.70" x2="181.30" y2="439.90" stroke="#bdbdbd" stroke-width="0.6"/>
<line x1="148.20" y1="435.50" x2="148.20" y2="440.10" stroke="#e8a82a" stroke-width="0.65" stroke-opacity="0.34"/>
<line x1="154.40" y1="435.50" x2="154.40" y2="440.10" stroke="#e8a82a" stroke-width="0.65" stroke-opacity="0.26"/>
<line x1="161.90" y1="435.50" x2="161.90" y2="440.10" stroke="#e8a82a" stroke-width="0.65" stroke-opacity="0.34"/>
<line x1="165.80" y1="435.50" x2="165.80" y2="440.10" stroke="#e8a82a" stroke-width="0.65" stroke-opacity="0.72"/>
<line x1="170.80" y1="435.50" x2="170.80" y2="440.10" stroke="#e8a82a" stroke-width="0.65" stroke-opacity="0.72"/>
<line x1="171.70" y1="435.50" x2="171.70" y2="440.10" stroke="#e8a82a" stroke-width="0.65" stroke-opacity="0.72"/>
<text x="87.00" y="439.95" font-size="6.4" fill="#e3b23c" textLength="17.70" lengthAdjust="spacing" stroke="#e3b23c" stroke-width="0.2">Cul4A</text>
<rect x="108.60" y="442.10" width="75.60" height="5.20" rx="0.8" fill="url(#gE)" stroke="#cfcfcf" stroke-width="0.6"/>
<line x1="111.00" y1="442.60" x2="111.00" y2="446.80" stroke="#bdbdbd" stroke-width="0.6"/>
<line x1="181.30" y1="442.60" x2="181.30" y2="446.80" stroke="#bdbdbd" stroke-width="0.6"/>
<line x1="175.60" y1="442.40" x2="175.60" y2="447.00" stroke="#e8a82a" stroke-width="0.65" stroke-opacity="0.42"/>
<line x1="178.50" y1="442.40" x2="178.50" y2="447.00" stroke="#e8a82a" stroke-width="0.65" stroke-opacity="0.72"/>
<line x1="179.90" y1="442.40" x2="179.90" y2="447.00" stroke="#e8a82a" stroke-width="0.65" stroke-opacity="0.72"/>
<line x1="181.00" y1="442.40" x2="181.00" y2="447.00" stroke="#e8a82a" stroke-width="0.65" stroke-opacity="0.72"/>
<text x="87.10" y="446.85" font-size="6.4" fill="#e3b23c" textLength="17.60" lengthAdjust="spacing" stroke="#e3b23c" stroke-width="0.2">CRBN</text>
<rect x="108.60" y="448.90" width="75.60" height="5.20" rx="0.8" fill="url(#gE)" stroke="#cfcfcf" stroke-width="0.6"/>
<line x1="111.00" y1="449.40" x2="111.00" y2="453.60" stroke="#bdbdbd" stroke-width="0.6"/>
<line x1="181.30" y1="449.40" x2="181.30" y2="453.60" stroke="#bdbdbd" stroke-width="0.6"/>
<line x1="155.40" y1="449.20" x2="155.40" y2="453.80" stroke="#e8a82a" stroke-width="0.65" stroke-opacity="0.42"/>
<line x1="163.10" y1="449.20" x2="163.10" y2="453.80" stroke="#e8a82a" stroke-width="0.65" stroke-opacity="0.34"/>
<line x1="167.90" y1="449.20" x2="167.90" y2="453.80" stroke="#e8a82a" stroke-width="0.65" stroke-opacity="0.42"/>
<line x1="172.20" y1="449.20" x2="172.20" y2="453.80" stroke="#e8a82a" stroke-width="0.65" stroke-opacity="0.72"/>
<line x1="174.60" y1="449.20" x2="174.60" y2="453.80" stroke="#e8a82a" stroke-width="0.65" stroke-opacity="0.34"/>
<text x="87.90" y="453.65" font-size="6.4" fill="#e3b23c" textLength="16.80" lengthAdjust="spacing" stroke="#e3b23c" stroke-width="0.2">DDB1</text>
<rect x="108.60" y="455.80" width="75.60" height="5.20" rx="0.8" fill="url(#gE)" stroke="#cfcfcf" stroke-width="0.6"/>
<line x1="111.00" y1="456.30" x2="111.00" y2="460.50" stroke="#bdbdbd" stroke-width="0.6"/>
<line x1="181.30" y1="456.30" x2="181.30" y2="460.50" stroke="#bdbdbd" stroke-width="0.6"/>
<line x1="148.20" y1="456.10" x2="148.20" y2="460.70" stroke="#e8a82a" stroke-width="0.65" stroke-opacity="0.42"/>
<line x1="157.30" y1="456.10" x2="157.30" y2="460.70" stroke="#e8a82a" stroke-width="0.65" stroke-opacity="0.34"/>
<line x1="160.70" y1="456.10" x2="160.70" y2="460.70" stroke="#e8a82a" stroke-width="0.65" stroke-opacity="0.34"/>
<line x1="167.40" y1="456.10" x2="167.40" y2="460.70" stroke="#e8a82a" stroke-width="0.65" stroke-opacity="0.42"/>
<line x1="169.30" y1="456.10" x2="169.30" y2="460.70" stroke="#e8a82a" stroke-width="0.65" stroke-opacity="0.72"/>
<text x="89.40" y="460.55" font-size="6.4" fill="#e3b23c" textLength="15.30" lengthAdjust="spacing" stroke="#e3b23c" stroke-width="0.2">RBX1</text>
<rect x="108.60" y="462.60" width="75.60" height="5.20" rx="0.8" fill="url(#gE)" stroke="#cfcfcf" stroke-width="0.6"/>
<line x1="111.00" y1="463.10" x2="111.00" y2="467.30" stroke="#bdbdbd" stroke-width="0.6"/>
<line x1="181.30" y1="463.10" x2="181.30" y2="467.30" stroke="#bdbdbd" stroke-width="0.6"/>
<line x1="178.00" y1="462.90" x2="178.00" y2="467.50" stroke="#e8a82a" stroke-width="0.65" stroke-opacity="0.72"/>
<line x1="179.20" y1="462.90" x2="179.20" y2="467.50" stroke="#e8a82a" stroke-width="0.65" stroke-opacity="0.72"/>
<line x1="180.30" y1="462.90" x2="180.30" y2="467.50" stroke="#e8a82a" stroke-width="0.65" stroke-opacity="0.72"/>
<line x1="181.00" y1="462.90" x2="181.00" y2="467.50" stroke="#e8a82a" stroke-width="0.65" stroke-opacity="0.72"/>
<text x="80.70" y="467.35" font-size="6.4" fill="#e3b23c" textLength="24.00" lengthAdjust="spacing" stroke="#e3b23c" stroke-width="0.2">UBE2G1</text>
<rect x="108.60" y="469.50" width="75.60" height="5.20" rx="0.8" fill="url(#gE)" stroke="#cfcfcf" stroke-width="0.6"/>
<line x1="111.00" y1="470.00" x2="111.00" y2="474.20" stroke="#bdbdbd" stroke-width="0.6"/>
<line x1="181.30" y1="470.00" x2="181.30" y2="474.20" stroke="#bdbdbd" stroke-width="0.6"/>
<line x1="152.00" y1="469.80" x2="152.00" y2="474.40" stroke="#e8a82a" stroke-width="0.65" stroke-opacity="0.42"/>
<line x1="168.80" y1="469.80" x2="168.80" y2="474.40" stroke="#e8a82a" stroke-width="0.65" stroke-opacity="0.72"/>
<line x1="172.50" y1="469.80" x2="172.50" y2="474.40" stroke="#e8a82a" stroke-width="0.65" stroke-opacity="0.72"/>
<text x="80.90" y="474.25" font-size="6.4" fill="#e3b23c" textLength="23.80" lengthAdjust="spacing" stroke="#e3b23c" stroke-width="0.2">UBE2D3</text>
<rect x="108.60" y="477.10" width="75.60" height="5.20" rx="0.8" fill="url(#gE)" stroke="#cfcfcf" stroke-width="0.6"/>
<line x1="111.00" y1="477.60" x2="111.00" y2="481.80" stroke="#bdbdbd" stroke-width="0.6"/>
<line x1="181.30" y1="477.60" x2="181.30" y2="481.80" stroke="#bdbdbd" stroke-width="0.6"/>
<line x1="158.75" y1="477.40" x2="158.75" y2="482.00" stroke="#6ab04a" stroke-width="0.65" stroke-opacity="0.26"/>
<line x1="163.60" y1="477.40" x2="163.60" y2="482.00" stroke="#6ab04a" stroke-width="0.65" stroke-opacity="0.34"/>
<line x1="166.90" y1="477.40" x2="166.90" y2="482.00" stroke="#6ab04a" stroke-width="0.65" stroke-opacity="0.42"/>
<line x1="169.30" y1="477.40" x2="169.30" y2="482.00" stroke="#6ab04a" stroke-width="0.65" stroke-opacity="0.72"/>
<line x1="173.20" y1="477.40" x2="173.20" y2="482.00" stroke="#6ab04a" stroke-width="0.65" stroke-opacity="0.42"/>
<text x="87.90" y="481.85" font-size="6.4" fill="#7aab4e" textLength="16.80" lengthAdjust="spacing" stroke="#7aab4e" stroke-width="0.2">NAE1</text>
<rect x="108.60" y="484.00" width="75.60" height="5.20" rx="0.8" fill="url(#gE)" stroke="#cfcfcf" stroke-width="0.6"/>
<line x1="111.00" y1="484.50" x2="111.00" y2="488.70" stroke="#bdbdbd" stroke-width="0.6"/>
<line x1="181.30" y1="484.50" x2="181.30" y2="488.70" stroke="#bdbdbd" stroke-width="0.6"/>
<line x1="154.40" y1="484.30" x2="154.40" y2="488.90" stroke="#6ab04a" stroke-width="0.65" stroke-opacity="0.26"/>
<line x1="157.30" y1="484.30" x2="157.30" y2="488.90" stroke="#6ab04a" stroke-width="0.65" stroke-opacity="0.34"/>
<line x1="165.50" y1="484.30" x2="165.50" y2="488.90" stroke="#6ab04a" stroke-width="0.65" stroke-opacity="0.72"/>
<line x1="166.40" y1="484.30" x2="166.40" y2="488.90" stroke="#6ab04a" stroke-width="0.65" stroke-opacity="0.72"/>
<line x1="169.30" y1="484.30" x2="169.30" y2="488.90" stroke="#6ab04a" stroke-width="0.65" stroke-opacity="0.72"/>
<text x="88.50" y="488.75" font-size="6.4" fill="#7aab4e" textLength="16.20" lengthAdjust="spacing" stroke="#7aab4e" stroke-width="0.2">UBA3</text>
<rect x="108.60" y="490.90" width="75.60" height="5.20" rx="0.8" fill="url(#gE)" stroke="#cfcfcf" stroke-width="0.6"/>
<line x1="111.00" y1="491.40" x2="111.00" y2="495.60" stroke="#bdbdbd" stroke-width="0.6"/>
<line x1="181.30" y1="491.40" x2="181.30" y2="495.60" stroke="#bdbdbd" stroke-width="0.6"/>
<line x1="157.30" y1="491.20" x2="157.30" y2="495.80" stroke="#6ab04a" stroke-width="0.65" stroke-opacity="0.26"/>
<line x1="160.20" y1="491.20" x2="160.20" y2="495.80" stroke="#6ab04a" stroke-width="0.65" stroke-opacity="0.34"/>
<line x1="168.80" y1="491.20" x2="168.80" y2="495.80" stroke="#6ab04a" stroke-width="0.65" stroke-opacity="0.72"/>
<line x1="170.00" y1="491.20" x2="170.00" y2="495.80" stroke="#6ab04a" stroke-width="0.65" stroke-opacity="0.72"/>
<line x1="172.70" y1="491.20" x2="172.70" y2="495.80" stroke="#6ab04a" stroke-width="0.65" stroke-opacity="0.72"/>
<line x1="174.20" y1="491.20" x2="174.20" y2="495.80" stroke="#6ab04a" stroke-width="0.65" stroke-opacity="0.72"/>
<text x="82.90" y="495.65" font-size="6.4" fill="#7aab4e" textLength="21.80" lengthAdjust="spacing" stroke="#7aab4e" stroke-width="0.2">UBE2M</text>
<rect x="108.60" y="497.80" width="75.60" height="5.20" rx="0.8" fill="url(#gE)" stroke="#cfcfcf" stroke-width="0.6"/>
<line x1="111.00" y1="498.30" x2="111.00" y2="502.50" stroke="#bdbdbd" stroke-width="0.6"/>
<line x1="181.30" y1="498.30" x2="181.30" y2="502.50" stroke="#bdbdbd" stroke-width="0.6"/>
<line x1="155.40" y1="498.10" x2="155.40" y2="502.70" stroke="#6ab04a" stroke-width="0.65" stroke-opacity="0.26"/>
<line x1="156.80" y1="498.10" x2="156.80" y2="502.70" stroke="#6ab04a" stroke-width="0.65" stroke-opacity="0.26"/>
<line x1="158.75" y1="498.10" x2="158.75" y2="502.70" stroke="#6ab04a" stroke-width="0.65" stroke-opacity="0.34"/>
<line x1="162.60" y1="498.10" x2="162.60" y2="502.70" stroke="#6ab04a" stroke-width="0.65" stroke-opacity="0.72"/>
<line x1="166.40" y1="498.10" x2="166.40" y2="502.70" stroke="#6ab04a" stroke-width="0.65" stroke-opacity="0.34"/>
<text x="82.90" y="502.55" font-size="6.4" fill="#7aab4e" textLength="21.80" lengthAdjust="spacing" stroke="#7aab4e" stroke-width="0.2">NEDD8</text>
<rect x="108.60" y="504.70" width="75.60" height="5.20" rx="0.8" fill="url(#gE)" stroke="#cfcfcf" stroke-width="0.6"/>
<line x1="111.00" y1="505.20" x2="111.00" y2="509.40" stroke="#bdbdbd" stroke-width="0.6"/>
<line x1="181.30" y1="505.20" x2="181.30" y2="509.40" stroke="#bdbdbd" stroke-width="0.6"/>
<line x1="161.30" y1="505.00" x2="161.30" y2="509.60" stroke="#6ab04a" stroke-width="0.65" stroke-opacity="0.72"/>
<line x1="162.40" y1="505.00" x2="162.40" y2="509.60" stroke="#6ab04a" stroke-width="0.65" stroke-opacity="0.72"/>
<text x="85.10" y="509.45" font-size="6.4" fill="#7aab4e" textLength="19.60" lengthAdjust="spacing" stroke="#7aab4e" stroke-width="0.2">SENP8</text>
<rect x="108.60" y="513.30" width="75.60" height="5.20" rx="0.8" fill="url(#gE)" stroke="#cfcfcf" stroke-width="0.6"/>
<line x1="111.00" y1="513.80" x2="111.00" y2="518.00" stroke="#bdbdbd" stroke-width="0.6"/>
<line x1="181.30" y1="513.80" x2="181.30" y2="518.00" stroke="#bdbdbd" stroke-width="0.6"/>
<line x1="159.75" y1="513.60" x2="159.75" y2="518.20" stroke="#3a64c0" stroke-width="0.65" stroke-opacity="0.26"/>
<line x1="164.30" y1="513.60" x2="164.30" y2="518.20" stroke="#3a64c0" stroke-width="0.65" stroke-opacity="0.34"/>
<line x1="171.60" y1="513.60" x2="171.60" y2="518.20" stroke="#3a64c0" stroke-width="0.65" stroke-opacity="0.72"/>
<text x="62.90" y="518.05" font-size="6.4" fill="#4a6fbf" textLength="41.80" lengthAdjust="spacing" stroke="#4a6fbf" stroke-width="0.2">GPS1 (COPS1)</text>
<rect x="108.60" y="520.30" width="75.60" height="5.20" rx="0.8" fill="url(#gE)" stroke="#cfcfcf" stroke-width="0.6"/>
<line x1="111.00" y1="520.80" x2="111.00" y2="525.00" stroke="#bdbdbd" stroke-width="0.6"/>
<line x1="181.30" y1="520.80" x2="181.30" y2="525.00" stroke="#bdbdbd" stroke-width="0.6"/>
<line x1="160.90" y1="520.60" x2="160.90" y2="525.20" stroke="#3a64c0" stroke-width="0.65" stroke-opacity="0.72"/>
<line x1="164.80" y1="520.60" x2="164.80" y2="525.20" stroke="#3a64c0" stroke-width="0.65" stroke-opacity="0.42"/>
<line x1="167.10" y1="520.60" x2="167.10" y2="525.20" stroke="#3a64c0" stroke-width="0.65" stroke-opacity="0.42"/>
<line x1="173.30" y1="520.60" x2="173.30" y2="525.20" stroke="#3a64c0" stroke-width="0.65" stroke-opacity="0.42"/>
<line x1="175.60" y1="520.60" x2="175.60" y2="525.20" stroke="#3a64c0" stroke-width="0.65" stroke-opacity="0.72"/>
<text x="84.10" y="525.05" font-size="6.4" fill="#4a6fbf" textLength="20.60" lengthAdjust="spacing" stroke="#4a6fbf" stroke-width="0.2">COPS2</text>
<rect x="108.60" y="527.35" width="75.60" height="5.20" rx="0.8" fill="url(#gE)" stroke="#cfcfcf" stroke-width="0.6"/>
<line x1="111.00" y1="527.85" x2="111.00" y2="532.05" stroke="#bdbdbd" stroke-width="0.6"/>
<line x1="181.30" y1="527.85" x2="181.30" y2="532.05" stroke="#bdbdbd" stroke-width="0.6"/>
<line x1="161.40" y1="527.65" x2="161.40" y2="532.25" stroke="#3a64c0" stroke-width="0.65" stroke-opacity="0.72"/>
<line x1="166.50" y1="527.65" x2="166.50" y2="532.25" stroke="#3a64c0" stroke-width="0.65" stroke-opacity="0.72"/>
<line x1="169.30" y1="527.65" x2="169.30" y2="532.25" stroke="#3a64c0" stroke-width="0.65" stroke-opacity="0.42"/>
<line x1="172.70" y1="527.65" x2="172.70" y2="532.25" stroke="#3a64c0" stroke-width="0.65" stroke-opacity="0.42"/>
<text x="84.10" y="532.10" font-size="6.4" fill="#4a6fbf" textLength="20.60" lengthAdjust="spacing" stroke="#4a6fbf" stroke-width="0.2">COPS3</text>
<rect x="108.60" y="534.40" width="75.60" height="5.20" rx="0.8" fill="url(#gE)" stroke="#cfcfcf" stroke-width="0.6"/>
<line x1="111.00" y1="534.90" x2="111.00" y2="539.10" stroke="#bdbdbd" stroke-width="0.6"/>
<line x1="181.30" y1="534.90" x2="181.30" y2="539.10" stroke="#bdbdbd" stroke-width="0.6"/>
<line x1="160.30" y1="534.70" x2="160.30" y2="539.30" stroke="#3a64c0" stroke-width="0.65" stroke-opacity="0.72"/>
<line x1="162.00" y1="534.70" x2="162.00" y2="539.30" stroke="#3a64c0" stroke-width="0.65" stroke-opacity="0.42"/>
<line x1="164.30" y1="534.70" x2="164.30" y2="539.30" stroke="#3a64c0" stroke-width="0.65" stroke-opacity="0.72"/>
<line x1="167.70" y1="534.70" x2="167.70" y2="539.30" stroke="#3a64c0" stroke-width="0.65" stroke-opacity="0.42"/>
<text x="84.10" y="539.15" font-size="6.4" fill="#4a6fbf" textLength="20.60" lengthAdjust="spacing" stroke="#4a6fbf" stroke-width="0.2">COPS4</text>
<rect x="108.60" y="541.40" width="75.60" height="5.20" rx="0.8" fill="url(#gE)" stroke="#cfcfcf" stroke-width="0.6"/>
<line x1="111.00" y1="541.90" x2="111.00" y2="546.10" stroke="#bdbdbd" stroke-width="0.6"/>
<line x1="181.30" y1="541.90" x2="181.30" y2="546.10" stroke="#bdbdbd" stroke-width="0.6"/>
<line x1="158.60" y1="541.70" x2="158.60" y2="546.30" stroke="#3a64c0" stroke-width="0.65" stroke-opacity="0.34"/>
<line x1="159.75" y1="541.70" x2="159.75" y2="546.30" stroke="#3a64c0" stroke-width="0.65" stroke-opacity="0.34"/>
<line x1="164.30" y1="541.70" x2="164.30" y2="546.30" stroke="#3a64c0" stroke-width="0.65" stroke-opacity="0.42"/>
<line x1="169.90" y1="541.70" x2="169.90" y2="546.30" stroke="#3a64c0" stroke-width="0.65" stroke-opacity="0.72"/>
<text x="84.10" y="546.15" font-size="6.4" fill="#4a6fbf" textLength="20.60" lengthAdjust="spacing" stroke="#4a6fbf" stroke-width="0.2">COPS5</text>
<rect x="108.60" y="548.40" width="75.60" height="5.20" rx="0.8" fill="url(#gE)" stroke="#cfcfcf" stroke-width="0.6"/>
<line x1="111.00" y1="548.90" x2="111.00" y2="553.10" stroke="#bdbdbd" stroke-width="0.6"/>
<line x1="181.30" y1="548.90" x2="181.30" y2="553.10" stroke="#bdbdbd" stroke-width="0.6"/>
<line x1="158.60" y1="548.70" x2="158.60" y2="553.30" stroke="#3a64c0" stroke-width="0.65" stroke-opacity="0.34"/>
<line x1="162.60" y1="548.70" x2="162.60" y2="553.30" stroke="#3a64c0" stroke-width="0.65" stroke-opacity="0.42"/>
<line x1="166.50" y1="548.70" x2="166.50" y2="553.30" stroke="#3a64c0" stroke-width="0.65" stroke-opacity="0.42"/>
<line x1="171.60" y1="548.70" x2="171.60" y2="553.30" stroke="#3a64c0" stroke-width="0.65" stroke-opacity="0.72"/>
<text x="84.10" y="553.15" font-size="6.4" fill="#4a6fbf" textLength="20.60" lengthAdjust="spacing" stroke="#4a6fbf" stroke-width="0.2">COPS6</text>
<rect x="108.60" y="555.40" width="75.60" height="5.20" rx="0.8" fill="url(#gE)" stroke="#cfcfcf" stroke-width="0.6"/>
<line x1="111.00" y1="555.90" x2="111.00" y2="560.10" stroke="#bdbdbd" stroke-width="0.6"/>
<line x1="181.30" y1="555.90" x2="181.30" y2="560.10" stroke="#bdbdbd" stroke-width="0.6"/>
<line x1="155.80" y1="555.70" x2="155.80" y2="560.30" stroke="#3a64c0" stroke-width="0.65" stroke-opacity="0.42"/>
<line x1="158.10" y1="555.70" x2="158.10" y2="560.30" stroke="#3a64c0" stroke-width="0.65" stroke-opacity="0.51"/>
<line x1="160.30" y1="555.70" x2="160.30" y2="560.30" stroke="#3a64c0" stroke-width="0.65" stroke-opacity="0.72"/>
<line x1="161.40" y1="555.70" x2="161.40" y2="560.30" stroke="#3a64c0" stroke-width="0.65" stroke-opacity="0.72"/>
<text x="79.70" y="560.15" font-size="6.4" fill="#4a6fbf" textLength="25.00" lengthAdjust="spacing" stroke="#4a6fbf" stroke-width="0.2">COPS7A</text>
<rect x="108.60" y="562.40" width="75.60" height="5.20" rx="0.8" fill="url(#gE)" stroke="#cfcfcf" stroke-width="0.6"/>
<line x1="111.00" y1="562.90" x2="111.00" y2="567.10" stroke="#bdbdbd" stroke-width="0.6"/>
<line x1="181.30" y1="562.90" x2="181.30" y2="567.10" stroke="#bdbdbd" stroke-width="0.6"/>
<line x1="162.60" y1="562.70" x2="162.60" y2="567.30" stroke="#3a64c0" stroke-width="0.65" stroke-opacity="0.42"/>
<line x1="167.10" y1="562.70" x2="167.10" y2="567.30" stroke="#3a64c0" stroke-width="0.65" stroke-opacity="0.72"/>
<line x1="170.50" y1="562.70" x2="170.50" y2="567.30" stroke="#3a64c0" stroke-width="0.65" stroke-opacity="0.42"/>
<line x1="172.70" y1="562.70" x2="172.70" y2="567.30" stroke="#3a64c0" stroke-width="0.65" stroke-opacity="0.72"/>
<text x="84.10" y="567.15" font-size="6.4" fill="#4a6fbf" textLength="20.60" lengthAdjust="spacing" stroke="#4a6fbf" stroke-width="0.2">COPS8</text>
<rect x="108.60" y="569.90" width="75.60" height="5.20" rx="0.8" fill="url(#gE)" stroke="#cfcfcf" stroke-width="0.6"/>
<line x1="111.00" y1="570.40" x2="111.00" y2="574.60" stroke="#bdbdbd" stroke-width="0.6"/>
<line x1="181.30" y1="570.40" x2="181.30" y2="574.60" stroke="#bdbdbd" stroke-width="0.6"/>
<line x1="153.50" y1="570.20" x2="153.50" y2="574.80" stroke="#b07a5a" stroke-width="0.65" stroke-opacity="0.51"/>
<line x1="164.80" y1="570.20" x2="164.80" y2="574.80" stroke="#b07a5a" stroke-width="0.65" stroke-opacity="0.34"/>
<line x1="167.80" y1="570.20" x2="167.80" y2="574.80" stroke="#b07a5a" stroke-width="0.65" stroke-opacity="0.72"/>
<line x1="168.80" y1="570.20" x2="168.80" y2="574.80" stroke="#b07a5a" stroke-width="0.65" stroke-opacity="0.72"/>
<line x1="169.80" y1="570.20" x2="169.80" y2="574.80" stroke="#b07a5a" stroke-width="0.65" stroke-opacity="0.72"/>
<line x1="172.20" y1="570.20" x2="172.20" y2="574.80" stroke="#b07a5a" stroke-width="0.65" stroke-opacity="0.34"/>
<text x="82.70" y="574.65" font-size="6.4" fill="#c07a4a" textLength="22.00" lengthAdjust="spacing" stroke="#c07a4a" stroke-width="0.2">CAND1</text>
<line x1="59.80" y1="432.00" x2="59.80" y2="473.70" stroke="#ebcb72" stroke-width="1.6"/>
<line x1="59.80" y1="476.80" x2="59.80" y2="509.70" stroke="#a5c88a" stroke-width="1.6"/>
<line x1="59.80" y1="513.80" x2="59.80" y2="566.30" stroke="#8ea8da" stroke-width="1.6"/>
<line x1="59.80" y1="570.20" x2="59.80" y2="576.90" stroke="#d09a72" stroke-width="1.9"/>
<text x="56.90" y="496.20" font-size="6.4" fill="#7aab4e" text-anchor="end" textLength="35.70" lengthAdjust="spacing" stroke="#7aab4e" stroke-width="0.15">Neddylation</text>
<text x="56.70" y="542.20" font-size="6.4" fill="#4a6fbf" text-anchor="end" textLength="42.30" lengthAdjust="spacing" stroke="#4a6fbf" stroke-width="0.15">Deneddylation</text>
<text x="56.70" y="575.40" font-size="6.4" fill="#c07a4a" text-anchor="end" textLength="39.80" lengthAdjust="spacing" stroke="#c07a4a" stroke-width="0.15">CRL assembly</text>
<text x="30.10" y="456.70" font-size="6.6" fill="#e3b23c" textLength="15.30" lengthAdjust="spacing" stroke="#e3b23c" stroke-width="0.15">CRL4</text>
<text x="45.80" y="453.40" font-size="4.2" fill="#e3b23c" textLength="10.80" lengthAdjust="spacing">CRBN</text>
<text x="115.60" y="584.60" font-size="6.8" fill="#111" text-anchor="middle" stroke="#111" stroke-width="0.15">-7</text>
<text x="129.90" y="584.60" font-size="6.8" fill="#111" text-anchor="middle" stroke="#111" stroke-width="0.15">-4</text>
<text x="149.30" y="584.60" font-size="6.8" fill="#111" text-anchor="middle" stroke="#111" stroke-width="0.15">0</text>
<text x="168.40" y="584.60" font-size="6.8" fill="#111" text-anchor="middle" stroke="#111" stroke-width="0.15">4</text>
<text x="181.30" y="584.60" font-size="6.8" fill="#111" text-anchor="middle" stroke="#111" stroke-width="0.15">7</text>
<text x="211.20" y="423.20" font-size="12.4" fill="#000" font-weight="bold">F</text>
<text x="329.80" y="450.30" font-size="6.6" fill="#000" textLength="99.80" lengthAdjust="spacing" stroke="#000" stroke-width="0.15">log2FC sgRNAi (CC-90009/DMSO)</text>
<defs><linearGradient id="gF" gradientUnits="userSpaceOnUse" x1="340.4" y1="0" x2="418.4" y2="0"><stop offset="0.0115" stop-color="#fafcff"/><stop offset="0.2167" stop-color="#f0f5fb"/><stop offset="0.3577" stop-color="#e4edf8"/><stop offset="0.4218" stop-color="#d4e4f4"/><stop offset="0.4538" stop-color="#b6d1ea"/><stop offset="0.4731" stop-color="#86b0da"/><stop offset="0.4910" stop-color="#4a7fbf"/><stop offset="0.5077" stop-color="#1a4a92"/><stop offset="0.5244" stop-color="#0a3270"/><stop offset="0.5372" stop-color="#08306b"/><stop offset="0.5500" stop-color="#0a3272"/><stop offset="0.5654" stop-color="#194a93"/><stop offset="0.5821" stop-color="#3f78bb"/><stop offset="0.6013" stop-color="#72a2d3"/><stop offset="0.6269" stop-color="#9cc0e3"/><stop offset="0.6654" stop-color="#c4daf0"/><stop offset="0.7167" stop-color="#dce8f6"/><stop offset="0.7936" stop-color="#ecf3fa"/><stop offset="0.8962" stop-color="#f6f9fd"/><stop offset="1.0628" stop-color="#fcfdff"/></linearGradient></defs>
<rect x="340.70" y="455.60" width="77.40" height="5.20" rx="0.8" fill="url(#gF)" stroke="#cfcfcf" stroke-width="0.6"/>
<line x1="343.10" y1="456.10" x2="343.10" y2="460.30" stroke="#bdbdbd" stroke-width="0.6"/>
<line x1="415.70" y1="456.10" x2="415.70" y2="460.30" stroke="#bdbdbd" stroke-width="0.6"/>
<line x1="392.60" y1="455.90" x2="392.60" y2="460.50" stroke="#d04050" stroke-width="0.65" stroke-opacity="0.72"/>
<line x1="396.40" y1="455.90" x2="396.40" y2="460.50" stroke="#d04050" stroke-width="0.65" stroke-opacity="0.72"/>
<line x1="398.40" y1="455.90" x2="398.40" y2="460.50" stroke="#d04050" stroke-width="0.65" stroke-opacity="0.72"/>
<line x1="401.25" y1="455.90" x2="401.25" y2="460.50" stroke="#d04050" stroke-width="0.65" stroke-opacity="0.72"/>
<line x1="404.60" y1="455.90" x2="404.60" y2="460.50" stroke="#d04050" stroke-width="0.65" stroke-opacity="0.72"/>
<line x1="407.50" y1="455.90" x2="407.50" y2="460.50" stroke="#d04050" stroke-width="0.65" stroke-opacity="0.72"/>
<line x1="411.30" y1="455.90" x2="411.30" y2="460.50" stroke="#d04050" stroke-width="0.65" stroke-opacity="0.72"/>
<text x="325.00" y="460.70" font-size="6.5" fill="#d42a3a" textLength="11.90" lengthAdjust="spacing" stroke="#d42a3a" stroke-width="0.2">ILF2</text>
<rect x="340.70" y="462.50" width="77.40" height="5.20" rx="0.8" fill="url(#gF)" stroke="#cfcfcf" stroke-width="0.6"/>
<line x1="343.10" y1="463.00" x2="343.10" y2="467.20" stroke="#bdbdbd" stroke-width="0.6"/>
<line x1="415.70" y1="463.00" x2="415.70" y2="467.20" stroke="#bdbdbd" stroke-width="0.6"/>
<line x1="385.90" y1="462.80" x2="385.90" y2="467.40" stroke="#d04050" stroke-width="0.65" stroke-opacity="0.26"/>
<line x1="397.40" y1="462.80" x2="397.40" y2="467.40" stroke="#d04050" stroke-width="0.65" stroke-opacity="0.72"/>
<line x1="402.70" y1="462.80" x2="402.70" y2="467.40" stroke="#d04050" stroke-width="0.65" stroke-opacity="0.72"/>
<line x1="403.70" y1="462.80" x2="403.70" y2="467.40" stroke="#d04050" stroke-width="0.65" stroke-opacity="0.72"/>
<line x1="406.00" y1="462.80" x2="406.00" y2="467.40" stroke="#d04050" stroke-width="0.65" stroke-opacity="0.72"/>
<line x1="408.50" y1="462.80" x2="408.50" y2="467.40" stroke="#d04050" stroke-width="0.65" stroke-opacity="0.72"/>
<text x="325.00" y="466.80" font-size="6.5" fill="#d42a3a" textLength="11.90" lengthAdjust="spacing" stroke="#d42a3a" stroke-width="0.2">ILF3</text>
<rect x="340.70" y="469.30" width="77.40" height="5.20" rx="0.8" fill="url(#gF)" stroke="#cfcfcf" stroke-width="0.6"/>
<line x1="343.10" y1="469.80" x2="343.10" y2="474.00" stroke="#bdbdbd" stroke-width="0.6"/>
<line x1="415.70" y1="469.80" x2="415.70" y2="474.00" stroke="#bdbdbd" stroke-width="0.6"/>
<line x1="393.60" y1="469.60" x2="393.60" y2="474.20" stroke="#d04050" stroke-width="0.65" stroke-opacity="0.72"/>
<line x1="397.90" y1="469.60" x2="397.90" y2="474.20" stroke="#d04050" stroke-width="0.65" stroke-opacity="0.72"/>
<line x1="400.60" y1="469.60" x2="400.60" y2="474.20" stroke="#d04050" stroke-width="0.65" stroke-opacity="0.72"/>
<line x1="405.60" y1="469.60" x2="405.60" y2="474.20" stroke="#d04050" stroke-width="0.65" stroke-opacity="0.72"/>
<line x1="407.50" y1="469.60" x2="407.50" y2="474.20" stroke="#d04050" stroke-width="0.65" stroke-opacity="0.72"/>
<line x1="408.50" y1="469.60" x2="408.50" y2="474.20" stroke="#d04050" stroke-width="0.65" stroke-opacity="0.72"/>
<text x="313.00" y="473.70" font-size="6.5" fill="#d42a3a" textLength="23.90" lengthAdjust="spacing" stroke="#d42a3a" stroke-width="0.2">TCERG1</text>
<rect x="340.70" y="477.30" width="77.40" height="5.20" rx="0.8" fill="url(#gF)" stroke="#cfcfcf" stroke-width="0.6"/>
<line x1="343.10" y1="477.80" x2="343.10" y2="482.00" stroke="#bdbdbd" stroke-width="0.6"/>
<line x1="415.70" y1="477.80" x2="415.70" y2="482.00" stroke="#bdbdbd" stroke-width="0.6"/>
<line x1="401.25" y1="477.60" x2="401.25" y2="482.20" stroke="#3c3c3c" stroke-width="0.65" stroke-opacity="0.72"/>
<line x1="403.70" y1="477.60" x2="403.70" y2="482.20" stroke="#3c3c3c" stroke-width="0.65" stroke-opacity="0.72"/>
<line x1="404.60" y1="477.60" x2="404.60" y2="482.20" stroke="#3c3c3c" stroke-width="0.65" stroke-opacity="0.72"/>
<line x1="405.60" y1="477.60" x2="405.60" y2="482.20" stroke="#3c3c3c" stroke-width="0.65" stroke-opacity="0.72"/>
<text x="322.00" y="481.60" font-size="6.5" fill="#231f20" textLength="14.90" lengthAdjust="spacingAndGlyphs" stroke="#231f20" stroke-width="0.2">TSC1</text>
<rect x="340.70" y="484.50" width="77.40" height="5.20" rx="0.8" fill="url(#gF)" stroke="#cfcfcf" stroke-width="0.6"/>
<line x1="343.10" y1="485.00" x2="343.10" y2="489.20" stroke="#bdbdbd" stroke-width="0.6"/>
<line x1="415.70" y1="485.00" x2="415.70" y2="489.20" stroke="#bdbdbd" stroke-width="0.6"/>
<line x1="390.70" y1="484.80" x2="390.70" y2="489.40" stroke="#3c3c3c" stroke-width="0.65" stroke-opacity="0.26"/>
<line x1="396.40" y1="484.80" x2="396.40" y2="489.40" stroke="#3c3c3c" stroke-width="0.65" stroke-opacity="0.42"/>
<line x1="400.80" y1="484.80" x2="400.80" y2="489.40" stroke="#3c3c3c" stroke-width="0.65" stroke-opacity="0.72"/>
<line x1="404.60" y1="484.80" x2="404.60" y2="489.40" stroke="#3c3c3c" stroke-width="0.65" stroke-opacity="0.72"/>
<line x1="405.60" y1="484.80" x2="405.60" y2="489.40" stroke="#3c3c3c" stroke-width="0.65" stroke-opacity="0.72"/>
<text x="321.80" y="490.10" font-size="6.5" fill="#231f20" textLength="15.10" lengthAdjust="spacing" stroke="#231f20" stroke-width="0.2">TSC2</text>
<rect x="340.70" y="491.40" width="77.40" height="5.20" rx="0.8" fill="url(#gF)" stroke="#cfcfcf" stroke-width="0.6"/>
<line x1="343.10" y1="491.90" x2="343.10" y2="496.10" stroke="#bdbdbd" stroke-width="0.6"/>
<line x1="415.70" y1="491.90" x2="415.70" y2="496.10" stroke="#bdbdbd" stroke-width="0.6"/>
<line x1="394.00" y1="491.70" x2="394.00" y2="496.30" stroke="#3c3c3c" stroke-width="0.65" stroke-opacity="0.51"/>
<line x1="396.90" y1="491.70" x2="396.90" y2="496.30" stroke="#3c3c3c" stroke-width="0.65" stroke-opacity="0.72"/>
<line x1="397.70" y1="491.70" x2="397.70" y2="496.30" stroke="#3c3c3c" stroke-width="0.65" stroke-opacity="0.72"/>
<line x1="398.40" y1="491.70" x2="398.40" y2="496.30" stroke="#3c3c3c" stroke-width="0.65" stroke-opacity="0.72"/>
<text x="313.00" y="496.40" font-size="6.5" fill="#231f20" textLength="23.90" lengthAdjust="spacing" stroke="#231f20" stroke-width="0.2">TBC1D7</text>
<rect x="340.70" y="498.50" width="77.40" height="5.20" rx="0.8" fill="url(#gF)" stroke="#cfcfcf" stroke-width="0.6"/>
<line x1="343.10" y1="499.00" x2="343.10" y2="503.20" stroke="#bdbdbd" stroke-width="0.6"/>
<line x1="415.70" y1="499.00" x2="415.70" y2="503.20" stroke="#bdbdbd" stroke-width="0.6"/>
<line x1="397.40" y1="498.80" x2="397.40" y2="503.40" stroke="#3c3c3c" stroke-width="0.65" stroke-opacity="0.42"/>
<line x1="400.80" y1="498.80" x2="400.80" y2="503.40" stroke="#3c3c3c" stroke-width="0.65" stroke-opacity="0.72"/>
<line x1="401.70" y1="498.80" x2="401.70" y2="503.40" stroke="#3c3c3c" stroke-width="0.65" stroke-opacity="0.72"/>
<line x1="404.10" y1="498.80" x2="404.10" y2="503.40" stroke="#3c3c3c" stroke-width="0.65" stroke-opacity="0.51"/>
<text x="317.70" y="503.70" font-size="6.5" fill="#231f20" textLength="19.20" lengthAdjust="spacing" stroke="#231f20" stroke-width="0.2">NPRL2</text>
<rect x="340.70" y="505.70" width="77.40" height="5.20" rx="0.8" fill="url(#gF)" stroke="#cfcfcf" stroke-width="0.6"/>
<line x1="343.10" y1="506.20" x2="343.10" y2="510.40" stroke="#bdbdbd" stroke-width="0.6"/>
<line x1="415.70" y1="506.20" x2="415.70" y2="510.40" stroke="#bdbdbd" stroke-width="0.6"/>
<line x1="389.70" y1="506.00" x2="389.70" y2="510.60" stroke="#3c3c3c" stroke-width="0.65" stroke-opacity="0.42"/>
<line x1="397.40" y1="506.00" x2="397.40" y2="510.60" stroke="#3c3c3c" stroke-width="0.65" stroke-opacity="0.34"/>
<line x1="400.30" y1="506.00" x2="400.30" y2="510.60" stroke="#3c3c3c" stroke-width="0.65" stroke-opacity="0.72"/>
<line x1="403.70" y1="506.00" x2="403.70" y2="510.60" stroke="#3c3c3c" stroke-width="0.65" stroke-opacity="0.51"/>
<text x="317.70" y="510.40" font-size="6.5" fill="#231f20" textLength="19.20" lengthAdjust="spacing" stroke="#231f20" stroke-width="0.2">NPRL3</text>
<rect x="340.70" y="512.90" width="77.40" height="5.20" rx="0.8" fill="url(#gF)" stroke="#cfcfcf" stroke-width="0.6"/>
<line x1="343.10" y1="513.40" x2="343.10" y2="517.60" stroke="#bdbdbd" stroke-width="0.6"/>
<line x1="415.70" y1="513.40" x2="415.70" y2="517.60" stroke="#bdbdbd" stroke-width="0.6"/>
<line x1="397.40" y1="513.20" x2="397.40" y2="517.80" stroke="#3c3c3c" stroke-width="0.65" stroke-opacity="0.42"/>
<line x1="398.80" y1="513.20" x2="398.80" y2="517.80" stroke="#3c3c3c" stroke-width="0.65" stroke-opacity="0.72"/>
<line x1="400.30" y1="513.20" x2="400.30" y2="517.80" stroke="#3c3c3c" stroke-width="0.65" stroke-opacity="0.72"/>
<line x1="401.70" y1="513.20" x2="401.70" y2="517.80" stroke="#3c3c3c" stroke-width="0.65" stroke-opacity="0.72"/>
<line x1="403.20" y1="513.20" x2="403.20" y2="517.80" stroke="#3c3c3c" stroke-width="0.65" stroke-opacity="0.51"/>
<text x="311.90" y="517.80" font-size="6.5" fill="#231f20" textLength="25.00" lengthAdjust="spacing" stroke="#231f20" stroke-width="0.2">DEPDC5</text>
<rect x="340.70" y="520.10" width="77.40" height="5.20" rx="0.8" fill="url(#gF)" stroke="#cfcfcf" stroke-width="0.6"/>
<line x1="343.10" y1="520.60" x2="343.10" y2="524.80" stroke="#bdbdbd" stroke-width="0.6"/>
<line x1="415.70" y1="520.60" x2="415.70" y2="524.80" stroke="#bdbdbd" stroke-width="0.6"/>
<line x1="392.60" y1="520.40" x2="392.60" y2="525.00" stroke="#3c3c3c" stroke-width="0.65" stroke-opacity="0.34"/>
<line x1="395.50" y1="520.40" x2="395.50" y2="525.00" stroke="#3c3c3c" stroke-width="0.65" stroke-opacity="0.72"/>
<line x1="399.30" y1="520.40" x2="399.30" y2="525.00" stroke="#3c3c3c" stroke-width="0.65" stroke-opacity="0.34"/>
<text x="322.70" y="525.30" font-size="6.5" fill="#231f20" textLength="14.20" lengthAdjust="spacingAndGlyphs" stroke="#231f20" stroke-width="0.2">SZT2</text>
<rect x="340.70" y="527.20" width="77.40" height="5.20" rx="0.8" fill="url(#gF)" stroke="#cfcfcf" stroke-width="0.6"/>
<line x1="343.10" y1="527.70" x2="343.10" y2="531.90" stroke="#bdbdbd" stroke-width="0.6"/>
<line x1="415.70" y1="527.70" x2="415.70" y2="531.90" stroke="#bdbdbd" stroke-width="0.6"/>
<line x1="394.50" y1="527.50" x2="394.50" y2="532.10" stroke="#3c3c3c" stroke-width="0.65" stroke-opacity="0.72"/>
<line x1="398.40" y1="527.50" x2="398.40" y2="532.10" stroke="#3c3c3c" stroke-width="0.65" stroke-opacity="0.51"/>
<text x="310.00" y="531.80" font-size="6.5" fill="#231f20" textLength="26.90" lengthAdjust="spacing" stroke="#231f20" stroke-width="0.2">C12orf66</text>
<rect x="340.70" y="534.40" width="77.40" height="5.20" rx="0.8" fill="url(#gF)" stroke="#cfcfcf" stroke-width="0.6"/>
<line x1="343.10" y1="534.90" x2="343.10" y2="539.10" stroke="#bdbdbd" stroke-width="0.6"/>
<line x1="415.70" y1="534.90" x2="415.70" y2="539.10" stroke="#bdbdbd" stroke-width="0.6"/>
<line x1="389.70" y1="534.70" x2="389.70" y2="539.30" stroke="#3c3c3c" stroke-width="0.65" stroke-opacity="0.34"/>
<line x1="393.60" y1="534.70" x2="393.60" y2="539.30" stroke="#3c3c3c" stroke-width="0.65" stroke-opacity="0.34"/>
<line x1="395.50" y1="534.70" x2="395.50" y2="539.30" stroke="#3c3c3c" stroke-width="0.65" stroke-opacity="0.72"/>
<text x="319.80" y="539.00" font-size="6.5" fill="#231f20" textLength="17.10" lengthAdjust="spacing" stroke="#231f20" stroke-width="0.2">ITFG2</text>
<rect x="340.70" y="541.50" width="77.40" height="5.20" rx="0.8" fill="url(#gF)" stroke="#cfcfcf" stroke-width="0.6"/>
<line x1="343.10" y1="542.00" x2="343.10" y2="546.20" stroke="#bdbdbd" stroke-width="0.6"/>
<line x1="415.70" y1="542.00" x2="415.70" y2="546.20" stroke="#bdbdbd" stroke-width="0.6"/>
<line x1="390.20" y1="541.80" x2="390.20" y2="546.40" stroke="#3c3c3c" stroke-width="0.65" stroke-opacity="0.42"/>
<line x1="391.60" y1="541.80" x2="391.60" y2="546.40" stroke="#3c3c3c" stroke-width="0.65" stroke-opacity="0.42"/>
<line x1="393.60" y1="541.80" x2="393.60" y2="546.40" stroke="#3c3c3c" stroke-width="0.65" stroke-opacity="0.72"/>
<line x1="394.60" y1="541.80" x2="394.60" y2="546.40" stroke="#3c3c3c" stroke-width="0.65" stroke-opacity="0.72"/>
<line x1="395.50" y1="541.80" x2="395.50" y2="546.40" stroke="#3c3c3c" stroke-width="0.65" stroke-opacity="0.72"/>
<text x="321.00" y="545.80" font-size="6.5" fill="#231f20" textLength="15.90" lengthAdjust="spacing" stroke="#231f20" stroke-width="0.2">KPTN</text>
<rect x="340.70" y="549.90" width="77.40" height="5.20" rx="0.8" fill="url(#gF)" stroke="#cfcfcf" stroke-width="0.6"/>
<line x1="343.10" y1="550.40" x2="343.10" y2="554.60" stroke="#bdbdbd" stroke-width="0.6"/>
<line x1="415.70" y1="550.40" x2="415.70" y2="554.60" stroke="#bdbdbd" stroke-width="0.6"/>
<line x1="389.70" y1="550.20" x2="389.70" y2="554.80" stroke="#8a5cc0" stroke-width="0.65" stroke-opacity="0.26"/>
<line x1="394.50" y1="550.20" x2="394.50" y2="554.80" stroke="#8a5cc0" stroke-width="0.65" stroke-opacity="0.72"/>
<line x1="395.50" y1="550.20" x2="395.50" y2="554.80" stroke="#8a5cc0" stroke-width="0.65" stroke-opacity="0.72"/>
<line x1="397.40" y1="550.20" x2="397.40" y2="554.80" stroke="#8a5cc0" stroke-width="0.65" stroke-opacity="0.72"/>
<line x1="398.80" y1="550.20" x2="398.80" y2="554.80" stroke="#8a5cc0" stroke-width="0.65" stroke-opacity="0.42"/>
<line x1="401.25" y1="550.20" x2="401.25" y2="554.80" stroke="#8a5cc0" stroke-width="0.65" stroke-opacity="0.72"/>
<text x="288.75" y="554.75" font-size="6.5" fill="#7a56b0" textLength="48.15" lengthAdjust="spacing" stroke="#7a56b0" stroke-width="0.2">GCN1L1 (GCN1)</text>
<rect x="340.70" y="556.90" width="77.40" height="5.20" rx="0.8" fill="url(#gF)" stroke="#cfcfcf" stroke-width="0.6"/>
<line x1="343.10" y1="557.40" x2="343.10" y2="561.60" stroke="#bdbdbd" stroke-width="0.6"/>
<line x1="415.70" y1="557.40" x2="415.70" y2="561.60" stroke="#bdbdbd" stroke-width="0.6"/>
<line x1="396.40" y1="557.20" x2="396.40" y2="561.80" stroke="#8a5cc0" stroke-width="0.65" stroke-opacity="0.72"/>
<line x1="398.40" y1="557.20" x2="398.40" y2="561.80" stroke="#8a5cc0" stroke-width="0.65" stroke-opacity="0.72"/>
<line x1="400.30" y1="557.20" x2="400.30" y2="561.80" stroke="#8a5cc0" stroke-width="0.65" stroke-opacity="0.72"/>
<line x1="401.70" y1="557.20" x2="401.70" y2="561.80" stroke="#8a5cc0" stroke-width="0.65" stroke-opacity="0.72"/>
<text x="288.75" y="561.25" font-size="6.5" fill="#7a56b0" textLength="48.15" lengthAdjust="spacing" stroke="#7a56b0" stroke-width="0.2">EIF2AK4 (GCN2)</text>
<rect x="340.70" y="564.00" width="77.40" height="5.20" rx="0.8" fill="url(#gF)" stroke="#cfcfcf" stroke-width="0.6"/>
<line x1="343.10" y1="564.50" x2="343.10" y2="568.70" stroke="#bdbdbd" stroke-width="0.6"/>
<line x1="415.70" y1="564.50" x2="415.70" y2="568.70" stroke="#bdbdbd" stroke-width="0.6"/>
<line x1="396.90" y1="564.30" x2="396.90" y2="568.90" stroke="#8a5cc0" stroke-width="0.65" stroke-opacity="0.72"/>
<line x1="399.30" y1="564.30" x2="399.30" y2="568.90" stroke="#8a5cc0" stroke-width="0.65" stroke-opacity="0.42"/>
<line x1="400.80" y1="564.30" x2="400.80" y2="568.90" stroke="#8a5cc0" stroke-width="0.65" stroke-opacity="0.51"/>
<text x="322.25" y="569.00" font-size="6.5" fill="#7a56b0" textLength="14.65" lengthAdjust="spacing" stroke="#7a56b0" stroke-width="0.2">ATF4</text>
<rect x="340.70" y="571.10" width="77.40" height="5.20" rx="0.8" fill="url(#gF)" stroke="#cfcfcf" stroke-width="0.6"/>
<line x1="343.10" y1="571.60" x2="343.10" y2="575.80" stroke="#bdbdbd" stroke-width="0.6"/>
<line x1="415.70" y1="571.60" x2="415.70" y2="575.80" stroke="#bdbdbd" stroke-width="0.6"/>
<line x1="392.10" y1="571.40" x2="392.10" y2="576.00" stroke="#8a5cc0" stroke-width="0.65" stroke-opacity="0.42"/>
<line x1="394.50" y1="571.40" x2="394.50" y2="576.00" stroke="#8a5cc0" stroke-width="0.65" stroke-opacity="0.72"/>
<line x1="396.90" y1="571.40" x2="396.90" y2="576.00" stroke="#8a5cc0" stroke-width="0.65" stroke-opacity="0.42"/>
<line x1="399.30" y1="571.40" x2="399.30" y2="576.00" stroke="#8a5cc0" stroke-width="0.65" stroke-opacity="0.72"/>
<text x="293.10" y="575.60" font-size="6.5" fill="#7a56b0" textLength="43.80" lengthAdjust="spacing" stroke="#7a56b0" stroke-width="0.2">DDIT4 (REDD1)</text>
<line x1="268.60" y1="453.40" x2="268.60" y2="476.90" stroke="#dc4656" stroke-width="1.2"/>
<line x1="268.60" y1="480.00" x2="268.60" y2="542.50" stroke="#3a3a3a" stroke-width="1.2"/>
<line x1="268.60" y1="549.20" x2="268.60" y2="576.70" stroke="#9676c6" stroke-width="1.2"/>
<text x="227.70" y="467.20" font-size="6.6" fill="#d42a3a" textLength="37.60" lengthAdjust="spacing" stroke="#d42a3a" stroke-width="0.15">RNA Splicing</text>
<text x="218.90" y="513.00" font-size="6.6" fill="#231f20" textLength="46.70" lengthAdjust="spacing" stroke="#231f20" stroke-width="0.15">mTOR Signaling</text>
<text x="228.20" y="564.90" font-size="6.6" fill="#7a56b0" textLength="37.40" lengthAdjust="spacing" stroke="#7a56b0" stroke-width="0.15">ISR Signaling</text>
<text x="287.30" y="489.90" font-size="6.5" fill="#231f20" textLength="10.90" lengthAdjust="spacingAndGlyphs" stroke="#231f20" stroke-width="0.2">TSC</text>
<path d="M305.6,479.7 L304.2,479.7 Q303.6,479.7 303.6,480.4 L303.6,486.8 L301.4,487.7 L303.6,488.6 L303.6,494.9 Q303.6,495.6 304.2,495.6 L305.6,495.6" fill="none" stroke="#231f20" stroke-width="1.15"/>
<text x="272.90" y="511.20" font-size="6.5" fill="#231f20" textLength="25.00" lengthAdjust="spacing" stroke="#231f20" stroke-width="0.2">GATOR1</text>
<path d="M305.6,499.3 L304.2,499.3 Q303.6,499.3 303.6,500.0 L303.6,508.5 L301.4,509.4 L303.6,510.3 L303.6,518.1 Q303.6,518.8 304.2,518.8 L305.6,518.8" fill="none" stroke="#231f20" stroke-width="1.15"/>
<text x="271.90" y="536.60" font-size="6.5" fill="#231f20" textLength="26.00" lengthAdjust="spacing" stroke="#231f20" stroke-width="0.2">KICSTOR</text>
<path d="M305.6,522.4 L304.2,522.4 Q303.6,522.4 303.6,523.1 L303.6,532.8 L301.4,533.7 L303.6,534.6 L303.6,545.5 Q303.6,546.2 304.2,546.2 L305.6,546.2" fill="none" stroke="#231f20" stroke-width="1.15"/>
<text x="348.30" y="584.80" font-size="6.8" fill="#111" text-anchor="middle" stroke="#111" stroke-width="0.15">-7</text>
<text x="363.10" y="584.80" font-size="6.8" fill="#111" text-anchor="middle" stroke="#111" stroke-width="0.15">-4</text>
<text x="382.30" y="584.80" font-size="6.8" fill="#111" text-anchor="middle" stroke="#111" stroke-width="0.15">0</text>
<text x="401.70" y="584.80" font-size="6.8" fill="#111" text-anchor="middle" stroke="#111" stroke-width="0.15">4</text>
<text x="416.50" y="584.80" font-size="6.8" fill="#111" text-anchor="middle" stroke="#111" stroke-width="0.15">7</text>
<rect x="0.5" y="0.5" width="519" height="592" fill="none" stroke="#000" stroke-width="1.2"/>
</svg>
</body></html>
